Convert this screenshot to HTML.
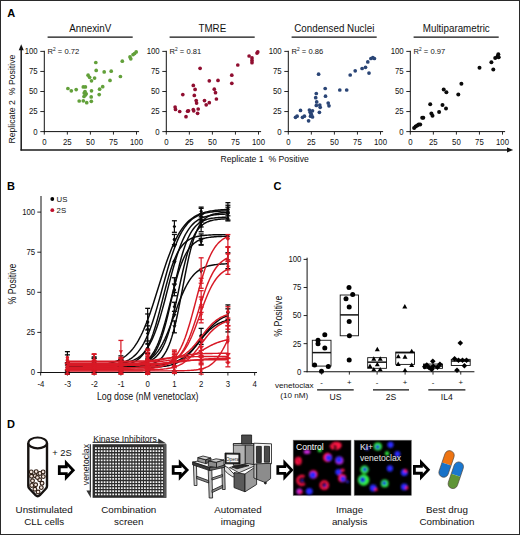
<!DOCTYPE html>
<html><head><meta charset="utf-8"><title>Figure</title>
<style>
html,body{margin:0;padding:0;background:#fff;}
body{width:520px;height:535px;overflow:hidden;}
svg{display:block;}
text{font-family:"Liberation Sans",sans-serif;}
</style></head><body>
<svg width="520" height="535" viewBox="0 0 520 535">
<rect x="0.5" y="0.5" width="519" height="534" fill="none" stroke="#2a2a2a" stroke-width="1"/>
<text x="7.3" y="16.7" font-size="11" text-anchor="start" fill="#000" font-weight="bold">A</text>
<text x="7.1" y="189.9" font-size="11" text-anchor="start" fill="#000" font-weight="bold">B</text>
<text x="273.4" y="190.2" font-size="11" text-anchor="start" fill="#000" font-weight="bold">C</text>
<text x="7.1" y="427.7" font-size="11" text-anchor="start" fill="#000" font-weight="bold">D</text>
<line x1="44.3" y1="50.8" x2="44.3" y2="132.1" stroke="#111" stroke-width="1"/>
<line x1="43.8" y1="131.6" x2="139.1" y2="131.6" stroke="#111" stroke-width="1"/>
<line x1="40.3" y1="131.6" x2="44.3" y2="131.6" stroke="#111" stroke-width="0.9"/>
<text x="37.7" y="134.5" font-size="8.5" text-anchor="end" fill="#111" textLength="4.34" lengthAdjust="spacingAndGlyphs">0</text>
<line x1="44.3" y1="131.6" x2="44.3" y2="134.6" stroke="#111" stroke-width="0.9"/>
<text x="44.3" y="144.6" font-size="8.5" text-anchor="middle" fill="#111" textLength="4.34" lengthAdjust="spacingAndGlyphs">0</text>
<line x1="40.3" y1="111.55" x2="44.3" y2="111.55" stroke="#111" stroke-width="0.9"/>
<text x="37.7" y="114.45" font-size="8.5" text-anchor="end" fill="#111" textLength="8.67" lengthAdjust="spacingAndGlyphs">25</text>
<line x1="67.35" y1="131.6" x2="67.35" y2="134.6" stroke="#111" stroke-width="0.9"/>
<text x="67.35" y="144.6" font-size="8.5" text-anchor="middle" fill="#111" textLength="8.67" lengthAdjust="spacingAndGlyphs">25</text>
<line x1="40.3" y1="91.5" x2="44.3" y2="91.5" stroke="#111" stroke-width="0.9"/>
<text x="37.7" y="94.4" font-size="8.5" text-anchor="end" fill="#111" textLength="8.67" lengthAdjust="spacingAndGlyphs">50</text>
<line x1="90.4" y1="131.6" x2="90.4" y2="134.6" stroke="#111" stroke-width="0.9"/>
<text x="90.4" y="144.6" font-size="8.5" text-anchor="middle" fill="#111" textLength="8.67" lengthAdjust="spacingAndGlyphs">50</text>
<line x1="40.3" y1="71.45" x2="44.3" y2="71.45" stroke="#111" stroke-width="0.9"/>
<text x="37.7" y="74.35" font-size="8.5" text-anchor="end" fill="#111" textLength="8.67" lengthAdjust="spacingAndGlyphs">75</text>
<line x1="113.45" y1="131.6" x2="113.45" y2="134.6" stroke="#111" stroke-width="0.9"/>
<text x="113.45" y="144.6" font-size="8.5" text-anchor="middle" fill="#111" textLength="8.67" lengthAdjust="spacingAndGlyphs">75</text>
<line x1="40.3" y1="51.4" x2="44.3" y2="51.4" stroke="#111" stroke-width="0.9"/>
<text x="37.7" y="54.3" font-size="8.5" text-anchor="end" fill="#111" textLength="13.01" lengthAdjust="spacingAndGlyphs">100</text>
<line x1="136.5" y1="131.6" x2="136.5" y2="134.6" stroke="#111" stroke-width="0.9"/>
<text x="136.5" y="144.6" font-size="8.5" text-anchor="middle" fill="#111" textLength="13.01" lengthAdjust="spacingAndGlyphs">100</text>
<text x="90.3" y="31.5" font-size="10.4" text-anchor="middle" fill="#111" textLength="41.95" lengthAdjust="spacingAndGlyphs">AnnexinV</text>
<line x1="47.6" y1="37.1" x2="132.7" y2="37.1" stroke="#111" stroke-width="1.3"/>
<text x="47.6" y="54.3" font-size="7.6" fill="#111">R<tspan font-size="4.8" dy="-3">2</tspan><tspan dy="3"> = 0.72</tspan></text>
<circle cx="67.9" cy="88.5" r="1.85" fill="#62a03a"/>
<circle cx="71.3" cy="90.8" r="1.85" fill="#62a03a"/>
<circle cx="76.2" cy="89.6" r="1.85" fill="#62a03a"/>
<circle cx="79.2" cy="101" r="1.85" fill="#62a03a"/>
<circle cx="83.3" cy="100.8" r="1.85" fill="#62a03a"/>
<circle cx="86.7" cy="102.7" r="1.85" fill="#62a03a"/>
<circle cx="91.3" cy="101.3" r="1.85" fill="#62a03a"/>
<circle cx="83.3" cy="86.9" r="1.85" fill="#62a03a"/>
<circle cx="85.4" cy="86.9" r="1.85" fill="#62a03a"/>
<circle cx="84.2" cy="93.1" r="1.85" fill="#62a03a"/>
<circle cx="86.2" cy="93.8" r="1.85" fill="#62a03a"/>
<circle cx="85.4" cy="95" r="1.85" fill="#62a03a"/>
<circle cx="91.5" cy="90.8" r="1.85" fill="#62a03a"/>
<circle cx="91.2" cy="96.9" r="1.85" fill="#62a03a"/>
<circle cx="88.1" cy="75.2" r="1.85" fill="#62a03a"/>
<circle cx="89.6" cy="77.3" r="1.85" fill="#62a03a"/>
<circle cx="91.5" cy="80.8" r="1.85" fill="#62a03a"/>
<circle cx="94.6" cy="78.1" r="1.85" fill="#62a03a"/>
<circle cx="95.8" cy="62.5" r="1.85" fill="#62a03a"/>
<circle cx="96.2" cy="70.4" r="1.85" fill="#62a03a"/>
<circle cx="99.6" cy="89.2" r="1.85" fill="#62a03a"/>
<circle cx="102.7" cy="86.7" r="1.85" fill="#62a03a"/>
<circle cx="99.2" cy="94.6" r="1.85" fill="#62a03a"/>
<circle cx="104.2" cy="71.9" r="1.85" fill="#62a03a"/>
<circle cx="111.2" cy="71.2" r="1.85" fill="#62a03a"/>
<circle cx="110" cy="80.4" r="1.85" fill="#62a03a"/>
<circle cx="120.4" cy="76.5" r="1.85" fill="#62a03a"/>
<circle cx="122.3" cy="61.2" r="1.85" fill="#62a03a"/>
<circle cx="130" cy="56.9" r="1.85" fill="#62a03a"/>
<circle cx="130.8" cy="58.8" r="1.85" fill="#62a03a"/>
<circle cx="133.1" cy="54.6" r="1.85" fill="#62a03a"/>
<circle cx="134.6" cy="53.5" r="1.85" fill="#62a03a"/>
<circle cx="136.2" cy="51.9" r="1.85" fill="#62a03a"/>
<circle cx="85" cy="91.5" r="1.85" fill="#62a03a"/>
<circle cx="84" cy="96.5" r="1.85" fill="#62a03a"/>
<line x1="166.3" y1="50.8" x2="166.3" y2="132.1" stroke="#111" stroke-width="1"/>
<line x1="165.8" y1="131.6" x2="261.1" y2="131.6" stroke="#111" stroke-width="1"/>
<line x1="162.3" y1="131.6" x2="166.3" y2="131.6" stroke="#111" stroke-width="0.9"/>
<text x="159.7" y="134.5" font-size="8.5" text-anchor="end" fill="#111" textLength="4.34" lengthAdjust="spacingAndGlyphs">0</text>
<line x1="166.3" y1="131.6" x2="166.3" y2="134.6" stroke="#111" stroke-width="0.9"/>
<text x="166.3" y="144.6" font-size="8.5" text-anchor="middle" fill="#111" textLength="4.34" lengthAdjust="spacingAndGlyphs">0</text>
<line x1="162.3" y1="111.55" x2="166.3" y2="111.55" stroke="#111" stroke-width="0.9"/>
<text x="159.7" y="114.45" font-size="8.5" text-anchor="end" fill="#111" textLength="8.67" lengthAdjust="spacingAndGlyphs">25</text>
<line x1="189.35" y1="131.6" x2="189.35" y2="134.6" stroke="#111" stroke-width="0.9"/>
<text x="189.35" y="144.6" font-size="8.5" text-anchor="middle" fill="#111" textLength="8.67" lengthAdjust="spacingAndGlyphs">25</text>
<line x1="162.3" y1="91.5" x2="166.3" y2="91.5" stroke="#111" stroke-width="0.9"/>
<text x="159.7" y="94.4" font-size="8.5" text-anchor="end" fill="#111" textLength="8.67" lengthAdjust="spacingAndGlyphs">50</text>
<line x1="212.4" y1="131.6" x2="212.4" y2="134.6" stroke="#111" stroke-width="0.9"/>
<text x="212.4" y="144.6" font-size="8.5" text-anchor="middle" fill="#111" textLength="8.67" lengthAdjust="spacingAndGlyphs">50</text>
<line x1="162.3" y1="71.45" x2="166.3" y2="71.45" stroke="#111" stroke-width="0.9"/>
<text x="159.7" y="74.35" font-size="8.5" text-anchor="end" fill="#111" textLength="8.67" lengthAdjust="spacingAndGlyphs">75</text>
<line x1="235.45" y1="131.6" x2="235.45" y2="134.6" stroke="#111" stroke-width="0.9"/>
<text x="235.45" y="144.6" font-size="8.5" text-anchor="middle" fill="#111" textLength="8.67" lengthAdjust="spacingAndGlyphs">75</text>
<line x1="162.3" y1="51.4" x2="166.3" y2="51.4" stroke="#111" stroke-width="0.9"/>
<text x="159.7" y="54.3" font-size="8.5" text-anchor="end" fill="#111" textLength="13.01" lengthAdjust="spacingAndGlyphs">100</text>
<line x1="258.5" y1="131.6" x2="258.5" y2="134.6" stroke="#111" stroke-width="0.9"/>
<text x="258.5" y="144.6" font-size="8.5" text-anchor="middle" fill="#111" textLength="13.01" lengthAdjust="spacingAndGlyphs">100</text>
<text x="212.3" y="31.5" font-size="10.4" text-anchor="middle" fill="#111" textLength="27.76" lengthAdjust="spacingAndGlyphs">TMRE</text>
<line x1="169.6" y1="37.1" x2="254.7" y2="37.1" stroke="#111" stroke-width="1.3"/>
<text x="169.6" y="54.3" font-size="7.6" fill="#111">R<tspan font-size="4.8" dy="-3">2</tspan><tspan dy="3"> = 0.81</tspan></text>
<circle cx="175.1" cy="107.1" r="1.85" fill="#900e30"/>
<circle cx="175.5" cy="109.4" r="1.85" fill="#900e30"/>
<circle cx="179.7" cy="111.5" r="1.85" fill="#900e30"/>
<circle cx="182.8" cy="94.6" r="1.85" fill="#900e30"/>
<circle cx="186" cy="116.7" r="1.85" fill="#900e30"/>
<circle cx="187.6" cy="111.2" r="1.85" fill="#900e30"/>
<circle cx="188.5" cy="110.8" r="1.85" fill="#900e30"/>
<circle cx="193.3" cy="85.4" r="1.85" fill="#900e30"/>
<circle cx="195.1" cy="89.4" r="1.85" fill="#900e30"/>
<circle cx="194.3" cy="95.4" r="1.85" fill="#900e30"/>
<circle cx="196.2" cy="100.6" r="1.85" fill="#900e30"/>
<circle cx="196.6" cy="103.1" r="1.85" fill="#900e30"/>
<circle cx="193.3" cy="109.6" r="1.85" fill="#900e30"/>
<circle cx="193.7" cy="110.8" r="1.85" fill="#900e30"/>
<circle cx="198.2" cy="109" r="1.85" fill="#900e30"/>
<circle cx="197.6" cy="113.3" r="1.85" fill="#900e30"/>
<circle cx="200.1" cy="68.3" r="1.85" fill="#900e30"/>
<circle cx="204.5" cy="100.6" r="1.85" fill="#900e30"/>
<circle cx="206.2" cy="104.8" r="1.85" fill="#900e30"/>
<circle cx="209.3" cy="102.7" r="1.85" fill="#900e30"/>
<circle cx="209.3" cy="80.8" r="1.85" fill="#900e30"/>
<circle cx="214.3" cy="89.2" r="1.85" fill="#900e30"/>
<circle cx="215.5" cy="92.7" r="1.85" fill="#900e30"/>
<circle cx="216.4" cy="99" r="1.85" fill="#900e30"/>
<circle cx="218" cy="80.4" r="1.85" fill="#900e30"/>
<circle cx="231.8" cy="75.2" r="1.85" fill="#900e30"/>
<circle cx="231.8" cy="83.3" r="1.85" fill="#900e30"/>
<circle cx="237.8" cy="65" r="1.85" fill="#900e30"/>
<circle cx="249.1" cy="56" r="1.85" fill="#900e30"/>
<circle cx="252" cy="57.9" r="1.85" fill="#900e30"/>
<circle cx="252" cy="60.4" r="1.85" fill="#900e30"/>
<circle cx="252" cy="62.7" r="1.85" fill="#900e30"/>
<circle cx="257" cy="53.1" r="1.85" fill="#900e30"/>
<circle cx="257.8" cy="51.9" r="1.85" fill="#900e30"/>
<line x1="288.3" y1="50.8" x2="288.3" y2="132.1" stroke="#111" stroke-width="1"/>
<line x1="287.8" y1="131.6" x2="383.1" y2="131.6" stroke="#111" stroke-width="1"/>
<line x1="284.3" y1="131.6" x2="288.3" y2="131.6" stroke="#111" stroke-width="0.9"/>
<text x="281.7" y="134.5" font-size="8.5" text-anchor="end" fill="#111" textLength="4.34" lengthAdjust="spacingAndGlyphs">0</text>
<line x1="288.3" y1="131.6" x2="288.3" y2="134.6" stroke="#111" stroke-width="0.9"/>
<text x="288.3" y="144.6" font-size="8.5" text-anchor="middle" fill="#111" textLength="4.34" lengthAdjust="spacingAndGlyphs">0</text>
<line x1="284.3" y1="111.55" x2="288.3" y2="111.55" stroke="#111" stroke-width="0.9"/>
<text x="281.7" y="114.45" font-size="8.5" text-anchor="end" fill="#111" textLength="8.67" lengthAdjust="spacingAndGlyphs">25</text>
<line x1="311.35" y1="131.6" x2="311.35" y2="134.6" stroke="#111" stroke-width="0.9"/>
<text x="311.35" y="144.6" font-size="8.5" text-anchor="middle" fill="#111" textLength="8.67" lengthAdjust="spacingAndGlyphs">25</text>
<line x1="284.3" y1="91.5" x2="288.3" y2="91.5" stroke="#111" stroke-width="0.9"/>
<text x="281.7" y="94.4" font-size="8.5" text-anchor="end" fill="#111" textLength="8.67" lengthAdjust="spacingAndGlyphs">50</text>
<line x1="334.4" y1="131.6" x2="334.4" y2="134.6" stroke="#111" stroke-width="0.9"/>
<text x="334.4" y="144.6" font-size="8.5" text-anchor="middle" fill="#111" textLength="8.67" lengthAdjust="spacingAndGlyphs">50</text>
<line x1="284.3" y1="71.45" x2="288.3" y2="71.45" stroke="#111" stroke-width="0.9"/>
<text x="281.7" y="74.35" font-size="8.5" text-anchor="end" fill="#111" textLength="8.67" lengthAdjust="spacingAndGlyphs">75</text>
<line x1="357.45" y1="131.6" x2="357.45" y2="134.6" stroke="#111" stroke-width="0.9"/>
<text x="357.45" y="144.6" font-size="8.5" text-anchor="middle" fill="#111" textLength="8.67" lengthAdjust="spacingAndGlyphs">75</text>
<line x1="284.3" y1="51.4" x2="288.3" y2="51.4" stroke="#111" stroke-width="0.9"/>
<text x="281.7" y="54.3" font-size="8.5" text-anchor="end" fill="#111" textLength="13.01" lengthAdjust="spacingAndGlyphs">100</text>
<line x1="380.5" y1="131.6" x2="380.5" y2="134.6" stroke="#111" stroke-width="0.9"/>
<text x="380.5" y="144.6" font-size="8.5" text-anchor="middle" fill="#111" textLength="13.01" lengthAdjust="spacingAndGlyphs">100</text>
<text x="334.3" y="31.5" font-size="10.4" text-anchor="middle" fill="#111" textLength="80.08" lengthAdjust="spacingAndGlyphs">Condensed Nuclei</text>
<line x1="291.6" y1="37.1" x2="376.7" y2="37.1" stroke="#111" stroke-width="1.3"/>
<text x="291.6" y="54.3" font-size="7.6" fill="#111">R<tspan font-size="4.8" dy="-3">2</tspan><tspan dy="3"> = 0.86</tspan></text>
<circle cx="295.5" cy="117.3" r="1.85" fill="#2a4576"/>
<circle cx="297.1" cy="116.2" r="1.85" fill="#2a4576"/>
<circle cx="300.5" cy="110.4" r="1.85" fill="#2a4576"/>
<circle cx="302.5" cy="117.3" r="1.85" fill="#2a4576"/>
<circle cx="304.4" cy="116.2" r="1.85" fill="#2a4576"/>
<circle cx="308.6" cy="120.8" r="1.85" fill="#2a4576"/>
<circle cx="309.4" cy="110" r="1.85" fill="#2a4576"/>
<circle cx="310.2" cy="112.3" r="1.85" fill="#2a4576"/>
<circle cx="310.5" cy="116.2" r="1.85" fill="#2a4576"/>
<circle cx="312.5" cy="110.8" r="1.85" fill="#2a4576"/>
<circle cx="312.5" cy="116.9" r="1.85" fill="#2a4576"/>
<circle cx="311.3" cy="114.2" r="1.85" fill="#2a4576"/>
<circle cx="316.3" cy="93.5" r="1.85" fill="#2a4576"/>
<circle cx="315.7" cy="97.7" r="1.85" fill="#2a4576"/>
<circle cx="316.7" cy="101.9" r="1.85" fill="#2a4576"/>
<circle cx="316.3" cy="105.4" r="1.85" fill="#2a4576"/>
<circle cx="318.6" cy="74.2" r="1.85" fill="#2a4576"/>
<circle cx="319.8" cy="105" r="1.85" fill="#2a4576"/>
<circle cx="320.2" cy="107.3" r="1.85" fill="#2a4576"/>
<circle cx="319.4" cy="112.3" r="1.85" fill="#2a4576"/>
<circle cx="325.2" cy="88.5" r="1.85" fill="#2a4576"/>
<circle cx="325.5" cy="96.2" r="1.85" fill="#2a4576"/>
<circle cx="328.2" cy="103.1" r="1.85" fill="#2a4576"/>
<circle cx="329" cy="105.8" r="1.85" fill="#2a4576"/>
<circle cx="339.8" cy="90" r="1.85" fill="#2a4576"/>
<circle cx="346.7" cy="90" r="1.85" fill="#2a4576"/>
<circle cx="350.2" cy="75" r="1.85" fill="#2a4576"/>
<circle cx="355.2" cy="70.8" r="1.85" fill="#2a4576"/>
<circle cx="362.1" cy="68.5" r="1.85" fill="#2a4576"/>
<circle cx="365.5" cy="67.3" r="1.85" fill="#2a4576"/>
<circle cx="369" cy="73.1" r="1.85" fill="#2a4576"/>
<circle cx="367.8" cy="61.9" r="1.85" fill="#2a4576"/>
<circle cx="370.9" cy="58.5" r="1.85" fill="#2a4576"/>
<circle cx="372.8" cy="57.7" r="1.85" fill="#2a4576"/>
<circle cx="374.4" cy="58.5" r="1.85" fill="#2a4576"/>
<line x1="410.3" y1="50.8" x2="410.3" y2="132.1" stroke="#111" stroke-width="1"/>
<line x1="409.8" y1="131.6" x2="505.1" y2="131.6" stroke="#111" stroke-width="1"/>
<line x1="406.3" y1="131.6" x2="410.3" y2="131.6" stroke="#111" stroke-width="0.9"/>
<text x="403.7" y="134.5" font-size="8.5" text-anchor="end" fill="#111" textLength="4.34" lengthAdjust="spacingAndGlyphs">0</text>
<line x1="410.3" y1="131.6" x2="410.3" y2="134.6" stroke="#111" stroke-width="0.9"/>
<text x="410.3" y="144.6" font-size="8.5" text-anchor="middle" fill="#111" textLength="4.34" lengthAdjust="spacingAndGlyphs">0</text>
<line x1="406.3" y1="111.55" x2="410.3" y2="111.55" stroke="#111" stroke-width="0.9"/>
<text x="403.7" y="114.45" font-size="8.5" text-anchor="end" fill="#111" textLength="8.67" lengthAdjust="spacingAndGlyphs">25</text>
<line x1="433.35" y1="131.6" x2="433.35" y2="134.6" stroke="#111" stroke-width="0.9"/>
<text x="433.35" y="144.6" font-size="8.5" text-anchor="middle" fill="#111" textLength="8.67" lengthAdjust="spacingAndGlyphs">25</text>
<line x1="406.3" y1="91.5" x2="410.3" y2="91.5" stroke="#111" stroke-width="0.9"/>
<text x="403.7" y="94.4" font-size="8.5" text-anchor="end" fill="#111" textLength="8.67" lengthAdjust="spacingAndGlyphs">50</text>
<line x1="456.4" y1="131.6" x2="456.4" y2="134.6" stroke="#111" stroke-width="0.9"/>
<text x="456.4" y="144.6" font-size="8.5" text-anchor="middle" fill="#111" textLength="8.67" lengthAdjust="spacingAndGlyphs">50</text>
<line x1="406.3" y1="71.45" x2="410.3" y2="71.45" stroke="#111" stroke-width="0.9"/>
<text x="403.7" y="74.35" font-size="8.5" text-anchor="end" fill="#111" textLength="8.67" lengthAdjust="spacingAndGlyphs">75</text>
<line x1="479.45" y1="131.6" x2="479.45" y2="134.6" stroke="#111" stroke-width="0.9"/>
<text x="479.45" y="144.6" font-size="8.5" text-anchor="middle" fill="#111" textLength="8.67" lengthAdjust="spacingAndGlyphs">75</text>
<line x1="406.3" y1="51.4" x2="410.3" y2="51.4" stroke="#111" stroke-width="0.9"/>
<text x="403.7" y="54.3" font-size="8.5" text-anchor="end" fill="#111" textLength="13.01" lengthAdjust="spacingAndGlyphs">100</text>
<line x1="502.5" y1="131.6" x2="502.5" y2="134.6" stroke="#111" stroke-width="0.9"/>
<text x="502.5" y="144.6" font-size="8.5" text-anchor="middle" fill="#111" textLength="13.01" lengthAdjust="spacingAndGlyphs">100</text>
<text x="456.3" y="31.5" font-size="10.4" text-anchor="middle" fill="#111" textLength="66.98" lengthAdjust="spacingAndGlyphs">Multiparametric</text>
<line x1="413.6" y1="37.1" x2="498.7" y2="37.1" stroke="#111" stroke-width="1.3"/>
<text x="413.6" y="54.3" font-size="7.6" fill="#111">R<tspan font-size="4.8" dy="-3">2</tspan><tspan dy="3"> = 0.97</tspan></text>
<circle cx="414.1" cy="128.1" r="2.0" fill="#0a0a0a"/>
<circle cx="415.6" cy="126.5" r="2.0" fill="#0a0a0a"/>
<circle cx="417.2" cy="125.4" r="2.0" fill="#0a0a0a"/>
<circle cx="418.7" cy="124.6" r="2.0" fill="#0a0a0a"/>
<circle cx="420.2" cy="124.6" r="2.0" fill="#0a0a0a"/>
<circle cx="422.2" cy="117.7" r="2.0" fill="#0a0a0a"/>
<circle cx="423.3" cy="117.7" r="2.0" fill="#0a0a0a"/>
<circle cx="430.2" cy="104.2" r="2.0" fill="#0a0a0a"/>
<circle cx="431.4" cy="113.5" r="2.0" fill="#0a0a0a"/>
<circle cx="432.5" cy="115.8" r="2.0" fill="#0a0a0a"/>
<circle cx="439.1" cy="111.9" r="2.0" fill="#0a0a0a"/>
<circle cx="442.5" cy="105" r="2.0" fill="#0a0a0a"/>
<circle cx="443.7" cy="89.6" r="2.0" fill="#0a0a0a"/>
<circle cx="446.4" cy="92.3" r="2.0" fill="#0a0a0a"/>
<circle cx="446" cy="108.5" r="2.0" fill="#0a0a0a"/>
<circle cx="458.3" cy="94.6" r="2.0" fill="#0a0a0a"/>
<circle cx="461.4" cy="83.8" r="2.0" fill="#0a0a0a"/>
<circle cx="479.5" cy="67.7" r="2.0" fill="#0a0a0a"/>
<circle cx="491.4" cy="62.3" r="2.0" fill="#0a0a0a"/>
<circle cx="493.3" cy="69.6" r="2.0" fill="#0a0a0a"/>
<circle cx="495.2" cy="58.1" r="2.0" fill="#0a0a0a"/>
<circle cx="497.5" cy="56.5" r="2.0" fill="#0a0a0a"/>
<circle cx="498.3" cy="54.2" r="2.0" fill="#0a0a0a"/>
<circle cx="498.7" cy="57.3" r="2.0" fill="#0a0a0a"/>
<line x1="21.2" y1="49" x2="21.2" y2="150.6" stroke="#1a1a1a" stroke-width="1.5"/>
<line x1="20.5" y1="149.9" x2="508" y2="149.9" stroke="#1a1a1a" stroke-width="1.5"/>
<path d="M21.2,44.3 L18.7,50.2 L23.7,50.2 Z" fill="#111"/>
<path d="M513.2,149.9 L507,147.4 L507,152.4 Z" fill="#111"/>
<text x="264.6" y="161.8" font-size="9.9" text-anchor="middle" fill="#111" textLength="88.4" lengthAdjust="spacingAndGlyphs">Replicate 1&#160;&#160;% Positive</text>
<text x="0" y="0" font-size="9.9" text-anchor="middle" fill="#111" textLength="89" lengthAdjust="spacingAndGlyphs" transform="translate(14.8,99.1) rotate(-90)">Replicate 2&#160;&#160;% Positive</text>
<line x1="41" y1="196" x2="41" y2="373" stroke="#111" stroke-width="1"/>
<line x1="40.5" y1="372.5" x2="257" y2="372.5" stroke="#111" stroke-width="1"/>
<line x1="37.3" y1="372.5" x2="41" y2="372.5" stroke="#111" stroke-width="0.9"/>
<text x="35.2" y="375.4" font-size="8.5" text-anchor="end" fill="#111" textLength="4.34" lengthAdjust="spacingAndGlyphs">0</text>
<line x1="37.3" y1="332.4" x2="41" y2="332.4" stroke="#111" stroke-width="0.9"/>
<text x="35.2" y="335.3" font-size="8.5" text-anchor="end" fill="#111" textLength="8.67" lengthAdjust="spacingAndGlyphs">25</text>
<line x1="37.3" y1="292.3" x2="41" y2="292.3" stroke="#111" stroke-width="0.9"/>
<text x="35.2" y="295.2" font-size="8.5" text-anchor="end" fill="#111" textLength="8.67" lengthAdjust="spacingAndGlyphs">50</text>
<line x1="37.3" y1="252.2" x2="41" y2="252.2" stroke="#111" stroke-width="0.9"/>
<text x="35.2" y="255.1" font-size="8.5" text-anchor="end" fill="#111" textLength="8.67" lengthAdjust="spacingAndGlyphs">75</text>
<line x1="37.3" y1="212.1" x2="41" y2="212.1" stroke="#111" stroke-width="0.9"/>
<text x="35.2" y="215" font-size="8.5" text-anchor="end" fill="#111" textLength="13.01" lengthAdjust="spacingAndGlyphs">100</text>
<line x1="40.65" y1="372.5" x2="40.65" y2="375.5" stroke="#111" stroke-width="0.9"/>
<text x="40.85" y="386.8" font-size="8.5" text-anchor="middle" fill="#111" textLength="6.93" lengthAdjust="spacingAndGlyphs">-4</text>
<line x1="67.4" y1="372.5" x2="67.4" y2="375.5" stroke="#111" stroke-width="0.9"/>
<text x="67.6" y="386.8" font-size="8.5" text-anchor="middle" fill="#111" textLength="6.93" lengthAdjust="spacingAndGlyphs">-3</text>
<line x1="94.15" y1="372.5" x2="94.15" y2="375.5" stroke="#111" stroke-width="0.9"/>
<text x="94.35" y="386.8" font-size="8.5" text-anchor="middle" fill="#111" textLength="6.93" lengthAdjust="spacingAndGlyphs">-2</text>
<line x1="120.9" y1="372.5" x2="120.9" y2="375.5" stroke="#111" stroke-width="0.9"/>
<text x="121.1" y="386.8" font-size="8.5" text-anchor="middle" fill="#111" textLength="6.93" lengthAdjust="spacingAndGlyphs">-1</text>
<line x1="147.65" y1="372.5" x2="147.65" y2="375.5" stroke="#111" stroke-width="0.9"/>
<text x="147.75" y="386.8" font-size="8.5" text-anchor="middle" fill="#111" textLength="4.34" lengthAdjust="spacingAndGlyphs">0</text>
<line x1="174.4" y1="372.5" x2="174.4" y2="375.5" stroke="#111" stroke-width="0.9"/>
<text x="174.5" y="386.8" font-size="8.5" text-anchor="middle" fill="#111" textLength="4.34" lengthAdjust="spacingAndGlyphs">1</text>
<line x1="201.15" y1="372.5" x2="201.15" y2="375.5" stroke="#111" stroke-width="0.9"/>
<text x="201.25" y="386.8" font-size="8.5" text-anchor="middle" fill="#111" textLength="4.34" lengthAdjust="spacingAndGlyphs">2</text>
<line x1="227.9" y1="372.5" x2="227.9" y2="375.5" stroke="#111" stroke-width="0.9"/>
<text x="228" y="386.8" font-size="8.5" text-anchor="middle" fill="#111" textLength="4.34" lengthAdjust="spacingAndGlyphs">3</text>
<line x1="254.65" y1="372.5" x2="254.65" y2="375.5" stroke="#111" stroke-width="0.9"/>
<text x="254.75" y="386.8" font-size="8.5" text-anchor="middle" fill="#111" textLength="4.34" lengthAdjust="spacingAndGlyphs">4</text>
<text x="147.7" y="400.3" font-size="10.2" text-anchor="middle" fill="#111" textLength="101.6" lengthAdjust="spacingAndGlyphs">Log dose (nM venetoclax)</text>
<text x="0" y="0" font-size="10.2" text-anchor="middle" fill="#111" textLength="41" lengthAdjust="spacingAndGlyphs" transform="translate(15.5,284) rotate(-90)">% Positive</text>
<circle cx="52.3" cy="199" r="1.9" fill="#000"/>
<text x="56.6" y="201.6" font-size="7.8" text-anchor="start" fill="#111">US</text>
<circle cx="52.3" cy="210.2" r="1.9" fill="#c0102c"/>
<text x="56.6" y="212.8" font-size="7.8" text-anchor="start" fill="#111">2S</text>
<path d="M67.4,365.99L68.74,365.98L70.08,365.97L71.41,365.96L72.75,365.94L74.09,365.92L75.42,365.91L76.76,365.89L78.1,365.86L79.44,365.84L80.78,365.81L82.11,365.78L83.45,365.74L84.79,365.7L86.12,365.66L87.46,365.61L88.8,365.55L90.14,365.49L91.47,365.42L92.81,365.35L94.15,365.26L95.49,365.17L96.83,365.06L98.16,364.95L99.5,364.82L100.84,364.67L102.18,364.51L103.51,364.33L104.85,364.13L106.19,363.91L107.53,363.66L108.86,363.38L110.2,363.08L111.54,362.74L112.88,362.36L114.21,361.94L115.55,361.48L116.89,360.96L118.23,360.39L119.56,359.76L120.9,359.06L122.24,358.29L123.58,357.44L124.91,356.5L126.25,355.47L127.59,354.33L128.93,353.08L130.26,351.72L131.6,350.23L132.94,348.6L134.28,346.82L135.61,344.9L136.95,342.81L138.29,340.56L139.62,338.13L140.96,335.53L142.3,332.75L143.64,329.78L144.97,326.64L146.31,323.32L147.65,319.84L148.99,316.19L150.33,312.39L151.66,308.46L153,304.41L154.34,300.27L155.68,296.05L157.01,291.78L158.35,287.49L159.69,283.19L161.03,278.93L162.36,274.71L163.7,270.56L165.04,266.52L166.38,262.59L167.71,258.79L169.05,255.14L170.39,251.65L171.72,248.33L173.06,245.19L174.4,242.23L175.74,239.45L177.07,236.84L178.41,234.42L179.75,232.16L181.09,230.08L182.43,228.15L183.76,226.38L185.1,224.75L186.44,223.26L187.78,221.89L189.11,220.65L190.45,219.51L191.79,218.48L193.12,217.54L194.46,216.69L195.8,215.92L197.14,215.22L198.48,214.59L199.81,214.02L201.15,213.5L202.49,213.04L203.82,212.62L205.16,212.24L206.5,211.9L207.84,211.59L209.18,211.32L210.51,211.07L211.85,210.85L213.19,210.65L214.53,210.47L215.86,210.3L217.2,210.16L218.54,210.03L219.88,209.91L221.21,209.81L222.55,209.71L223.89,209.63L225.23,209.55L226.56,209.48L227.9,209.42" fill="none" stroke="#0a0a0a" stroke-width="1.45"/>
<path d="M67.4,366.06L68.74,366.06L70.08,366.06L71.41,366.06L72.75,366.05L74.09,366.05L75.42,366.04L76.76,366.04L78.1,366.03L79.44,366.02L80.78,366.02L82.11,366.01L83.45,366L84.79,365.98L86.12,365.97L87.46,365.95L88.8,365.94L90.14,365.92L91.47,365.9L92.81,365.87L94.15,365.84L95.49,365.81L96.83,365.77L98.16,365.73L99.5,365.68L100.84,365.63L102.18,365.56L103.51,365.49L104.85,365.42L106.19,365.33L107.53,365.22L108.86,365.11L110.2,364.98L111.54,364.83L112.88,364.66L114.21,364.47L115.55,364.26L116.89,364.01L118.23,363.74L119.56,363.43L120.9,363.07L122.24,362.68L123.58,362.23L124.91,361.72L126.25,361.15L127.59,360.51L128.93,359.79L130.26,358.98L131.6,358.07L132.94,357.05L134.28,355.91L135.61,354.63L136.95,353.22L138.29,351.64L139.62,349.89L140.96,347.96L142.3,345.83L143.64,343.5L144.97,340.94L146.31,338.16L147.65,335.13L148.99,331.87L150.33,328.38L151.66,324.64L153,320.68L154.34,316.5L155.68,312.13L157.01,307.58L158.35,302.89L159.69,298.09L161.03,293.21L162.36,288.29L163.7,283.37L165.04,278.49L166.38,273.69L167.71,269L169.05,264.45L170.39,260.08L171.72,255.9L173.06,251.94L174.4,248.2L175.74,244.71L177.07,241.45L178.41,238.42L179.75,235.64L181.09,233.08L182.43,230.75L183.76,228.62L185.1,226.69L186.44,224.94L187.78,223.36L189.11,221.95L190.45,220.67L191.79,219.53L193.12,218.51L194.46,217.6L195.8,216.79L197.14,216.07L198.48,215.43L199.81,214.86L201.15,214.35L202.49,213.9L203.82,213.51L205.16,213.15L206.5,212.84L207.84,212.57L209.18,212.32L210.51,212.11L211.85,211.92L213.19,211.75L214.53,211.6L215.86,211.47L217.2,211.36L218.54,211.25L219.88,211.16L221.21,211.09L222.55,211.02L223.89,210.95L225.23,210.9L226.56,210.85L227.9,210.81" fill="none" stroke="#0a0a0a" stroke-width="1.45"/>
<path d="M67.4,364.48L68.74,364.47L70.08,364.47L71.41,364.47L72.75,364.47L74.09,364.47L75.42,364.47L76.76,364.47L78.1,364.47L79.44,364.46L80.78,364.46L82.11,364.46L83.45,364.45L84.79,364.45L86.12,364.45L87.46,364.44L88.8,364.44L90.14,364.43L91.47,364.42L92.81,364.41L94.15,364.4L95.49,364.39L96.83,364.38L98.16,364.37L99.5,364.35L100.84,364.33L102.18,364.31L103.51,364.28L104.85,364.25L106.19,364.22L107.53,364.18L108.86,364.14L110.2,364.08L111.54,364.03L112.88,363.96L114.21,363.88L115.55,363.79L116.89,363.69L118.23,363.58L119.56,363.44L120.9,363.29L122.24,363.12L123.58,362.92L124.91,362.69L126.25,362.43L127.59,362.13L128.93,361.79L130.26,361.39L131.6,360.95L132.94,360.44L134.28,359.86L135.61,359.2L136.95,358.45L138.29,357.59L139.62,356.63L140.96,355.53L142.3,354.3L143.64,352.9L144.97,351.34L146.31,349.58L147.65,347.62L148.99,345.44L150.33,343.02L151.66,340.35L153,337.41L154.34,334.21L155.68,330.73L157.01,326.97L158.35,322.95L159.69,318.66L161.03,314.14L162.36,309.41L163.7,304.49L165.04,299.44L166.38,294.29L167.71,289.09L169.05,283.89L170.39,278.74L171.72,273.69L173.06,268.78L174.4,264.04L175.74,259.52L177.07,255.24L178.41,251.21L179.75,247.45L181.09,243.97L182.43,240.77L183.76,237.84L185.1,235.16L186.44,232.75L187.78,230.56L189.11,228.6L190.45,226.85L191.79,225.28L193.12,223.89L194.46,222.65L195.8,221.56L197.14,220.59L198.48,219.74L199.81,218.99L201.15,218.33L202.49,217.75L203.82,217.24L205.16,216.79L206.5,216.4L207.84,216.06L209.18,215.76L210.51,215.5L211.85,215.27L213.19,215.07L214.53,214.89L215.86,214.74L217.2,214.61L218.54,214.49L219.88,214.39L221.21,214.3L222.55,214.22L223.89,214.16L225.23,214.1L226.56,214.05L227.9,214" fill="none" stroke="#0a0a0a" stroke-width="1.45"/>
<path d="M67.4,367.69L68.74,367.69L70.08,367.69L71.41,367.69L72.75,367.69L74.09,367.69L75.42,367.69L76.76,367.69L78.1,367.69L79.44,367.69L80.78,367.69L82.11,367.69L83.45,367.68L84.79,367.68L86.12,367.68L87.46,367.68L88.8,367.68L90.14,367.68L91.47,367.68L92.81,367.68L94.15,367.68L95.49,367.67L96.83,367.67L98.16,367.67L99.5,367.67L100.84,367.66L102.18,367.66L103.51,367.65L104.85,367.65L106.19,367.64L107.53,367.63L108.86,367.62L110.2,367.61L111.54,367.6L112.88,367.58L114.21,367.56L115.55,367.54L116.89,367.52L118.23,367.48L119.56,367.45L120.9,367.41L122.24,367.36L123.58,367.3L124.91,367.23L126.25,367.15L127.59,367.06L128.93,366.95L130.26,366.83L131.6,366.68L132.94,366.5L134.28,366.29L135.61,366.05L136.95,365.77L138.29,365.44L139.62,365.05L140.96,364.6L142.3,364.08L143.64,363.46L144.97,362.75L146.31,361.92L147.65,360.95L148.99,359.83L150.33,358.54L151.66,357.06L153,355.35L154.34,353.4L155.68,351.17L157.01,348.65L158.35,345.8L159.69,342.61L161.03,339.05L162.36,335.13L163.7,330.83L165.04,326.15L166.38,321.13L167.71,315.79L169.05,310.18L170.39,304.35L171.72,298.36L173.06,292.3L174.4,286.24L175.74,280.25L177.07,274.42L178.41,268.81L179.75,263.47L181.09,258.45L182.43,253.77L183.76,249.47L185.1,245.55L186.44,241.99L187.78,238.8L189.11,235.95L190.45,233.43L191.79,231.2L193.12,229.25L194.46,227.54L195.8,226.06L197.14,224.77L198.48,223.65L199.81,222.68L201.15,221.85L202.49,221.14L203.82,220.52L205.16,220L206.5,219.55L207.84,219.16L209.18,218.83L210.51,218.55L211.85,218.31L213.19,218.1L214.53,217.92L215.86,217.77L217.2,217.65L218.54,217.54L219.88,217.45L221.21,217.37L222.55,217.3L223.89,217.24L225.23,217.19L226.56,217.15L227.9,217.12" fill="none" stroke="#0a0a0a" stroke-width="1.45"/>
<path d="M67.4,364.48L68.74,364.48L70.08,364.48L71.41,364.48L72.75,364.48L74.09,364.48L75.42,364.48L76.76,364.48L78.1,364.48L79.44,364.48L80.78,364.48L82.11,364.48L83.45,364.48L84.79,364.48L86.12,364.48L87.46,364.48L88.8,364.48L90.14,364.48L91.47,364.48L92.81,364.48L94.15,364.48L95.49,364.48L96.83,364.48L98.16,364.48L99.5,364.47L100.84,364.47L102.18,364.47L103.51,364.47L104.85,364.47L106.19,364.47L107.53,364.46L108.86,364.46L110.2,364.46L111.54,364.45L112.88,364.45L114.21,364.44L115.55,364.44L116.89,364.43L118.23,364.42L119.56,364.41L120.9,364.39L122.24,364.38L123.58,364.36L124.91,364.33L126.25,364.31L127.59,364.27L128.93,364.24L130.26,364.19L131.6,364.13L132.94,364.07L134.28,363.99L135.61,363.9L136.95,363.79L138.29,363.66L139.62,363.51L140.96,363.33L142.3,363.11L143.64,362.86L144.97,362.56L146.31,362.2L147.65,361.78L148.99,361.28L150.33,360.7L151.66,360.01L153,359.19L154.34,358.24L155.68,357.12L157.01,355.82L158.35,354.3L159.69,352.54L161.03,350.5L162.36,348.16L163.7,345.48L165.04,342.44L166.38,339.01L167.71,335.18L169.05,330.92L170.39,326.25L171.72,321.18L173.06,315.75L174.4,309.99L175.74,303.98L177.07,297.78L178.41,291.5L179.75,285.21L181.09,279.02L182.43,273L183.76,267.25L185.1,261.81L186.44,256.74L187.78,252.07L189.11,247.82L190.45,243.98L191.79,240.55L193.12,237.51L194.46,234.84L195.8,232.5L197.14,230.46L198.48,228.7L199.81,227.18L201.15,225.87L202.49,224.76L203.82,223.8L205.16,222.99L206.5,222.3L207.84,221.71L209.18,221.21L210.51,220.79L211.85,220.44L213.19,220.14L214.53,219.88L215.86,219.67L217.2,219.49L218.54,219.33L219.88,219.2L221.21,219.09L222.55,219L223.89,218.93L225.23,218.86L226.56,218.81L227.9,218.76" fill="none" stroke="#0a0a0a" stroke-width="1.45"/>
<path d="M67.4,366.08L68.74,366.08L70.08,366.08L71.41,366.08L72.75,366.08L74.09,366.08L75.42,366.08L76.76,366.08L78.1,366.08L79.44,366.08L80.78,366.08L82.11,366.08L83.45,366.08L84.79,366.08L86.12,366.08L87.46,366.08L88.8,366.08L90.14,366.08L91.47,366.08L92.81,366.08L94.15,366.08L95.49,366.08L96.83,366.08L98.16,366.08L99.5,366.08L100.84,366.08L102.18,366.08L103.51,366.08L104.85,366.08L106.19,366.08L107.53,366.08L108.86,366.08L110.2,366.08L111.54,366.08L112.88,366.07L114.21,366.07L115.55,366.07L116.89,366.07L118.23,366.06L119.56,366.06L120.9,366.05L122.24,366.05L123.58,366.04L124.91,366.03L126.25,366.02L127.59,366L128.93,365.99L130.26,365.97L131.6,365.94L132.94,365.92L134.28,365.88L135.61,365.84L136.95,365.79L138.29,365.73L139.62,365.66L140.96,365.58L142.3,365.47L143.64,365.35L144.97,365.2L146.31,365.03L147.65,364.81L148.99,364.56L150.33,364.25L151.66,363.89L153,363.45L154.34,362.93L155.68,362.31L157.01,361.57L158.35,360.69L159.69,359.64L161.03,358.41L162.36,356.94L163.7,355.23L165.04,353.21L166.38,350.87L167.71,348.15L169.05,345.02L170.39,341.44L171.72,337.38L173.06,332.83L174.4,327.78L175.74,322.24L177.07,316.24L178.41,309.84L179.75,303.12L181.09,296.16L182.43,289.09L183.76,282.02L185.1,275.07L186.44,268.34L187.78,261.94L189.11,255.95L190.45,250.4L191.79,245.35L193.12,240.8L194.46,236.75L195.8,233.17L197.14,230.03L198.48,227.32L199.81,224.97L201.15,222.96L202.49,221.24L203.82,219.78L205.16,218.54L206.5,217.49L207.84,216.61L209.18,215.87L210.51,215.25L211.85,214.73L213.19,214.29L214.53,213.93L215.86,213.62L217.2,213.37L218.54,213.16L219.88,212.98L221.21,212.83L222.55,212.71L223.89,212.61L225.23,212.52L226.56,212.45L227.9,212.39" fill="none" stroke="#0a0a0a" stroke-width="1.45"/>
<path d="M67.4,366.08L68.74,366.08L70.08,366.08L71.41,366.08L72.75,366.08L74.09,366.08L75.42,366.08L76.76,366.08L78.1,366.08L79.44,366.08L80.78,366.08L82.11,366.08L83.45,366.07L84.79,366.07L86.12,366.07L87.46,366.07L88.8,366.07L90.14,366.06L91.47,366.06L92.81,366.05L94.15,366.05L95.49,366.04L96.83,366.04L98.16,366.03L99.5,366.02L100.84,366L102.18,365.99L103.51,365.97L104.85,365.96L106.19,365.93L107.53,365.91L108.86,365.88L110.2,365.84L111.54,365.8L112.88,365.75L114.21,365.69L115.55,365.62L116.89,365.54L118.23,365.44L119.56,365.33L120.9,365.2L122.24,365.05L123.58,364.87L124.91,364.66L126.25,364.41L127.59,364.12L128.93,363.79L130.26,363.39L131.6,362.93L132.94,362.4L134.28,361.77L135.61,361.05L136.95,360.21L138.29,359.23L139.62,358.11L140.96,356.81L142.3,355.32L143.64,353.62L144.97,351.68L146.31,349.47L147.65,346.99L148.99,344.21L150.33,341.11L151.66,337.68L153,333.93L154.34,329.85L155.68,325.47L157.01,320.81L158.35,315.92L159.69,310.83L161.03,305.61L162.36,300.32L163.7,295.03L165.04,289.81L166.38,284.72L167.71,279.83L169.05,275.17L170.39,270.79L171.72,266.71L173.06,262.96L174.4,259.53L175.74,256.43L177.07,253.65L178.41,251.17L179.75,248.96L181.09,247.02L182.43,245.32L183.76,243.83L185.1,242.53L186.44,241.41L187.78,240.43L189.11,239.59L190.45,238.87L191.79,238.24L193.12,237.71L194.46,237.25L195.8,236.85L197.14,236.52L198.48,236.23L199.81,235.98L201.15,235.77L202.49,235.59L203.82,235.44L205.16,235.31L206.5,235.2L207.84,235.1L209.18,235.02L210.51,234.95L211.85,234.89L213.19,234.84L214.53,234.8L215.86,234.76L217.2,234.73L218.54,234.71L219.88,234.68L221.21,234.67L222.55,234.65L223.89,234.64L225.23,234.62L226.56,234.61L227.9,234.6" fill="none" stroke="#0a0a0a" stroke-width="1.45"/>
<path d="M67.4,367.69L68.74,367.69L70.08,367.69L71.41,367.69L72.75,367.69L74.09,367.69L75.42,367.69L76.76,367.69L78.1,367.69L79.44,367.69L80.78,367.69L82.11,367.68L83.45,367.68L84.79,367.68L86.12,367.68L87.46,367.68L88.8,367.68L90.14,367.68L91.47,367.68L92.81,367.68L94.15,367.67L95.49,367.67L96.83,367.67L98.16,367.67L99.5,367.66L100.84,367.66L102.18,367.65L103.51,367.65L104.85,367.64L106.19,367.63L107.53,367.62L108.86,367.61L110.2,367.59L111.54,367.58L112.88,367.56L114.21,367.54L115.55,367.51L116.89,367.48L118.23,367.44L119.56,367.4L120.9,367.35L122.24,367.29L123.58,367.22L124.91,367.14L126.25,367.05L127.59,366.94L128.93,366.8L130.26,366.65L131.6,366.47L132.94,366.26L134.28,366.02L135.61,365.73L136.95,365.39L138.29,365L139.62,364.54L140.96,364L142.3,363.38L143.64,362.65L144.97,361.81L146.31,360.84L147.65,359.71L148.99,358.41L150.33,356.92L151.66,355.22L153,353.28L154.34,351.08L155.68,348.59L157.01,345.81L158.35,342.71L159.69,339.29L161.03,335.53L162.36,331.46L163.7,327.08L165.04,322.42L166.38,317.52L167.71,312.43L169.05,307.21L170.39,301.92L171.72,296.64L173.06,291.41L174.4,286.33L175.74,281.43L177.07,276.77L178.41,272.39L179.75,268.32L181.09,264.56L182.43,261.14L183.76,258.04L185.1,255.25L186.44,252.77L187.78,250.57L189.11,248.63L190.45,246.92L191.79,245.43L193.12,244.14L194.46,243.01L195.8,242.04L197.14,241.2L198.48,240.47L199.81,239.85L201.15,239.31L202.49,238.85L203.82,238.46L205.16,238.12L206.5,237.83L207.84,237.59L209.18,237.38L210.51,237.2L211.85,237.04L213.19,236.91L214.53,236.8L215.86,236.71L217.2,236.63L218.54,236.56L219.88,236.5L221.21,236.45L222.55,236.4L223.89,236.37L225.23,236.34L226.56,236.31L227.9,236.29" fill="none" stroke="#0a0a0a" stroke-width="1.45"/>
<path d="M67.4,366.08L68.74,366.08L70.08,366.08L71.41,366.08L72.75,366.08L74.09,366.08L75.42,366.08L76.76,366.08L78.1,366.08L79.44,366.08L80.78,366.08L82.11,366.08L83.45,366.08L84.79,366.08L86.12,366.08L87.46,366.08L88.8,366.07L90.14,366.07L91.47,366.07L92.81,366.07L94.15,366.07L95.49,366.06L96.83,366.06L98.16,366.06L99.5,366.05L100.84,366.05L102.18,366.04L103.51,366.03L104.85,366.03L106.19,366.02L107.53,366.01L108.86,366L110.2,365.98L111.54,365.97L112.88,365.95L114.21,365.93L115.55,365.9L116.89,365.87L118.23,365.84L119.56,365.8L120.9,365.76L122.24,365.71L123.58,365.65L124.91,365.59L126.25,365.51L127.59,365.42L128.93,365.32L130.26,365.2L131.6,365.07L132.94,364.91L134.28,364.73L135.61,364.53L136.95,364.29L138.29,364.02L139.62,363.71L140.96,363.35L142.3,362.94L143.64,362.47L144.97,361.93L146.31,361.32L147.65,360.62L148.99,359.82L150.33,358.92L151.66,357.9L153,356.75L154.34,355.46L155.68,354.01L157.01,352.39L158.35,350.59L159.69,348.59L161.03,346.41L162.36,344.02L163.7,341.42L165.04,338.62L166.38,335.63L167.71,332.47L169.05,329.13L170.39,325.67L171.72,322.09L173.06,318.44L174.4,314.76L175.74,311.07L177.07,307.42L178.41,303.84L179.75,300.38L181.09,297.05L182.43,293.88L183.76,290.89L185.1,288.09L186.44,285.5L187.78,283.11L189.11,280.92L190.45,278.93L191.79,277.13L193.12,275.51L194.46,274.06L195.8,272.76L197.14,271.61L198.48,270.59L199.81,269.69L201.15,268.89L202.49,268.19L203.82,267.58L205.16,267.04L206.5,266.57L207.84,266.16L209.18,265.81L210.51,265.49L211.85,265.22L213.19,264.98L214.53,264.78L215.86,264.6L217.2,264.44L218.54,264.31L219.88,264.19L221.21,264.09L222.55,264L223.89,263.93L225.23,263.86L226.56,263.8L227.9,263.75" fill="none" stroke="#0a0a0a" stroke-width="1.45"/>
<path d="M67.4,366.08L68.74,366.08L70.08,366.08L71.41,366.08L72.75,366.08L74.09,366.08L75.42,366.08L76.76,366.08L78.1,366.08L79.44,366.08L80.78,366.08L82.11,366.08L83.45,366.08L84.79,366.08L86.12,366.08L87.46,366.08L88.8,366.08L90.14,366.08L91.47,366.08L92.81,366.08L94.15,366.08L95.49,366.08L96.83,366.08L98.16,366.08L99.5,366.08L100.84,366.08L102.18,366.08L103.51,366.08L104.85,366.08L106.19,366.08L107.53,366.08L108.86,366.08L110.2,366.07L111.54,366.07L112.88,366.07L114.21,366.07L115.55,366.07L116.89,366.07L118.23,366.06L119.56,366.06L120.9,366.06L122.24,366.05L123.58,366.05L124.91,366.04L126.25,366.04L127.59,366.03L128.93,366.03L130.26,366.02L131.6,366.01L132.94,366L134.28,365.99L135.61,365.97L136.95,365.96L138.29,365.94L139.62,365.92L140.96,365.9L142.3,365.88L143.64,365.85L144.97,365.82L146.31,365.78L147.65,365.74L148.99,365.7L150.33,365.64L151.66,365.59L153,365.52L154.34,365.44L155.68,365.36L157.01,365.26L158.35,365.15L159.69,365.03L161.03,364.89L162.36,364.73L163.7,364.56L165.04,364.36L166.38,364.13L167.71,363.88L169.05,363.59L170.39,363.27L171.72,362.92L173.06,362.52L174.4,362.07L175.74,361.57L177.07,361.02L178.41,360.41L179.75,359.73L181.09,358.99L182.43,358.17L183.76,357.27L185.1,356.29L186.44,355.24L187.78,354.09L189.11,352.87L190.45,351.56L191.79,350.17L193.12,348.7L194.46,347.17L195.8,345.58L197.14,343.93L198.48,342.25L199.81,340.54L201.15,338.82L202.49,337.09L203.82,335.38L205.16,333.7L206.5,332.05L207.84,330.46L209.18,328.93L210.51,327.46L211.85,326.07L213.19,324.77L214.53,323.54L215.86,322.4L217.2,321.34L218.54,320.36L219.88,319.47L221.21,318.65L222.55,317.9L223.89,317.22L225.23,316.61L226.56,316.06L227.9,315.56" fill="none" stroke="#0a0a0a" stroke-width="1.45"/>
<path d="M67.4,367.69L68.74,367.69L70.08,367.69L71.41,367.69L72.75,367.69L74.09,367.69L75.42,367.69L76.76,367.69L78.1,367.69L79.44,367.69L80.78,367.69L82.11,367.69L83.45,367.69L84.79,367.69L86.12,367.69L87.46,367.69L88.8,367.69L90.14,367.69L91.47,367.69L92.81,367.69L94.15,367.69L95.49,367.69L96.83,367.69L98.16,367.69L99.5,367.69L100.84,367.69L102.18,367.69L103.51,367.69L104.85,367.68L106.19,367.68L107.53,367.68L108.86,367.68L110.2,367.68L111.54,367.68L112.88,367.68L114.21,367.68L115.55,367.68L116.89,367.68L118.23,367.68L119.56,367.67L120.9,367.67L122.24,367.67L123.58,367.67L124.91,367.66L126.25,367.66L127.59,367.66L128.93,367.65L130.26,367.64L131.6,367.64L132.94,367.63L134.28,367.62L135.61,367.61L136.95,367.6L138.29,367.59L139.62,367.57L140.96,367.56L142.3,367.54L143.64,367.52L144.97,367.49L146.31,367.46L147.65,367.43L148.99,367.39L150.33,367.35L151.66,367.3L153,367.24L154.34,367.17L155.68,367.1L157.01,367.01L158.35,366.91L159.69,366.8L161.03,366.67L162.36,366.52L163.7,366.36L165.04,366.16L166.38,365.95L167.71,365.7L169.05,365.42L170.39,365.1L171.72,364.74L173.06,364.33L174.4,363.87L175.74,363.35L177.07,362.77L178.41,362.13L179.75,361.41L181.09,360.61L182.43,359.73L183.76,358.76L185.1,357.71L186.44,356.56L187.78,355.32L189.11,353.99L190.45,352.58L191.79,351.09L193.12,349.53L194.46,347.91L195.8,346.24L197.14,344.54L198.48,342.83L199.81,341.11L201.15,339.41L202.49,337.75L203.82,336.13L205.16,334.56L206.5,333.07L207.84,331.66L209.18,330.33L210.51,329.09L211.85,327.95L213.19,326.89L214.53,325.92L215.86,325.04L217.2,324.24L218.54,323.52L219.88,322.88L221.21,322.3L222.55,321.78L223.89,321.32L225.23,320.92L226.56,320.55L227.9,320.24" fill="none" stroke="#0a0a0a" stroke-width="1.45"/>
<line x1="67.4" y1="362.63" x2="67.4" y2="373.55" stroke="#0a0a0a" stroke-width="1.2"/>
<line x1="64.9" y1="362.63" x2="69.9" y2="362.63" stroke="#0a0a0a" stroke-width="1.3"/>
<line x1="64.9" y1="373.55" x2="69.9" y2="373.55" stroke="#0a0a0a" stroke-width="1.3"/>
<circle cx="67.4" cy="368.09" r="1.7" fill="#0a0a0a"/>
<line x1="94.15" y1="358.51" x2="94.15" y2="370.35" stroke="#0a0a0a" stroke-width="1.2"/>
<line x1="91.65" y1="358.51" x2="96.65" y2="358.51" stroke="#0a0a0a" stroke-width="1.3"/>
<line x1="91.65" y1="370.35" x2="96.65" y2="370.35" stroke="#0a0a0a" stroke-width="1.3"/>
<circle cx="94.15" cy="364.43" r="1.7" fill="#0a0a0a"/>
<line x1="120.9" y1="355.86" x2="120.9" y2="370.07" stroke="#0a0a0a" stroke-width="1.2"/>
<line x1="118.4" y1="355.86" x2="123.4" y2="355.86" stroke="#0a0a0a" stroke-width="1.3"/>
<line x1="118.4" y1="370.07" x2="123.4" y2="370.07" stroke="#0a0a0a" stroke-width="1.3"/>
<circle cx="120.9" cy="362.96" r="1.7" fill="#0a0a0a"/>
<line x1="147.65" y1="313.97" x2="147.65" y2="329.96" stroke="#0a0a0a" stroke-width="1.2"/>
<line x1="145.15" y1="313.97" x2="150.15" y2="313.97" stroke="#0a0a0a" stroke-width="1.3"/>
<line x1="145.15" y1="329.96" x2="150.15" y2="329.96" stroke="#0a0a0a" stroke-width="1.3"/>
<circle cx="147.65" cy="321.97" r="1.7" fill="#0a0a0a"/>
<line x1="174.4" y1="234.45" x2="174.4" y2="244.61" stroke="#0a0a0a" stroke-width="1.2"/>
<line x1="171.9" y1="234.45" x2="176.9" y2="234.45" stroke="#0a0a0a" stroke-width="1.3"/>
<line x1="171.9" y1="244.61" x2="176.9" y2="244.61" stroke="#0a0a0a" stroke-width="1.3"/>
<circle cx="174.4" cy="239.53" r="1.7" fill="#0a0a0a"/>
<circle cx="201.15" cy="216.3" r="1.7" fill="#0a0a0a"/>
<line x1="227.9" y1="202.67" x2="227.9" y2="215.8" stroke="#0a0a0a" stroke-width="1.2"/>
<line x1="225.4" y1="202.67" x2="230.4" y2="202.67" stroke="#0a0a0a" stroke-width="1.3"/>
<line x1="225.4" y1="215.8" x2="230.4" y2="215.8" stroke="#0a0a0a" stroke-width="1.3"/>
<circle cx="227.9" cy="209.24" r="1.7" fill="#0a0a0a"/>
<path d="M67.4,367.46 L69.2,369.56 L67.4,371.66 L65.6,369.56 Z" fill="#0a0a0a"/>
<path d="M94.15,365.33 L95.95,367.43 L94.15,369.53 L92.35,367.43 Z" fill="#0a0a0a"/>
<path d="M120.9,361.19 L122.7,363.29 L120.9,365.39 L119.1,363.29 Z" fill="#0a0a0a"/>
<line x1="147.65" y1="325.84" x2="147.65" y2="340.99" stroke="#0a0a0a" stroke-width="1.2"/>
<line x1="145.15" y1="325.84" x2="150.15" y2="325.84" stroke="#0a0a0a" stroke-width="1.3"/>
<line x1="145.15" y1="340.99" x2="150.15" y2="340.99" stroke="#0a0a0a" stroke-width="1.3"/>
<path d="M147.65,331.32 L149.45,333.42 L147.65,335.52 L145.85,333.42 Z" fill="#0a0a0a"/>
<path d="M174.4,243.69 L176.2,245.79 L174.4,247.89 L172.6,245.79 Z" fill="#0a0a0a"/>
<line x1="201.15" y1="208.36" x2="201.15" y2="214.27" stroke="#0a0a0a" stroke-width="1.2"/>
<line x1="198.65" y1="208.36" x2="203.65" y2="208.36" stroke="#0a0a0a" stroke-width="1.3"/>
<line x1="198.65" y1="214.27" x2="203.65" y2="214.27" stroke="#0a0a0a" stroke-width="1.3"/>
<path d="M201.15,209.21 L202.95,211.31 L201.15,213.41 L199.35,211.31 Z" fill="#0a0a0a"/>
<line x1="227.9" y1="205.25" x2="227.9" y2="220.91" stroke="#0a0a0a" stroke-width="1.2"/>
<line x1="225.4" y1="205.25" x2="230.4" y2="205.25" stroke="#0a0a0a" stroke-width="1.3"/>
<line x1="225.4" y1="220.91" x2="230.4" y2="220.91" stroke="#0a0a0a" stroke-width="1.3"/>
<path d="M227.9,210.98 L229.7,213.08 L227.9,215.18 L226.1,213.08 Z" fill="#0a0a0a"/>
<path d="M65.3,361.96 L69.5,361.96 L67.4,365.46 Z" fill="#0a0a0a"/>
<path d="M92.05,363.82 L96.25,363.82 L94.15,367.32 Z" fill="#0a0a0a"/>
<path d="M118.8,361.12 L123,361.12 L120.9,364.62 Z" fill="#0a0a0a"/>
<path d="M145.55,342.68 L149.75,342.68 L147.65,346.18 Z" fill="#0a0a0a"/>
<path d="M172.3,261.17 L176.5,261.17 L174.4,264.67 Z" fill="#0a0a0a"/>
<line x1="201.15" y1="207.11" x2="201.15" y2="222.08" stroke="#0a0a0a" stroke-width="1.2"/>
<line x1="198.65" y1="207.11" x2="203.65" y2="207.11" stroke="#0a0a0a" stroke-width="1.3"/>
<line x1="198.65" y1="222.08" x2="203.65" y2="222.08" stroke="#0a0a0a" stroke-width="1.3"/>
<path d="M199.05,213.1 L203.25,213.1 L201.15,216.6 Z" fill="#0a0a0a"/>
<path d="M225.8,210.79 L230,210.79 L227.9,214.29 Z" fill="#0a0a0a"/>
<line x1="67.4" y1="363.09" x2="67.4" y2="371.1" stroke="#0a0a0a" stroke-width="1.2"/>
<line x1="64.9" y1="363.09" x2="69.9" y2="363.09" stroke="#0a0a0a" stroke-width="1.3"/>
<line x1="64.9" y1="371.1" x2="69.9" y2="371.1" stroke="#0a0a0a" stroke-width="1.3"/>
<circle cx="67.4" cy="367.1" r="1.7" fill="#0a0a0a"/>
<line x1="94.15" y1="356.88" x2="94.15" y2="372.8" stroke="#0a0a0a" stroke-width="1.2"/>
<line x1="91.65" y1="356.88" x2="96.65" y2="356.88" stroke="#0a0a0a" stroke-width="1.3"/>
<line x1="91.65" y1="372.8" x2="96.65" y2="372.8" stroke="#0a0a0a" stroke-width="1.3"/>
<circle cx="94.15" cy="364.84" r="1.7" fill="#0a0a0a"/>
<line x1="120.9" y1="360.29" x2="120.9" y2="369.71" stroke="#0a0a0a" stroke-width="1.2"/>
<line x1="118.4" y1="360.29" x2="123.4" y2="360.29" stroke="#0a0a0a" stroke-width="1.3"/>
<line x1="118.4" y1="369.71" x2="123.4" y2="369.71" stroke="#0a0a0a" stroke-width="1.3"/>
<circle cx="120.9" cy="365" r="1.7" fill="#0a0a0a"/>
<circle cx="147.65" cy="362.6" r="1.7" fill="#0a0a0a"/>
<line x1="174.4" y1="284.04" x2="174.4" y2="295.75" stroke="#0a0a0a" stroke-width="1.2"/>
<line x1="171.9" y1="284.04" x2="176.9" y2="284.04" stroke="#0a0a0a" stroke-width="1.3"/>
<line x1="171.9" y1="295.75" x2="176.9" y2="295.75" stroke="#0a0a0a" stroke-width="1.3"/>
<circle cx="174.4" cy="289.89" r="1.7" fill="#0a0a0a"/>
<circle cx="201.15" cy="220.1" r="1.7" fill="#0a0a0a"/>
<circle cx="227.9" cy="213.26" r="1.7" fill="#0a0a0a"/>
<path d="M67.4,363.91 L69.2,366.01 L67.4,368.11 L65.6,366.01 Z" fill="#0a0a0a"/>
<path d="M94.15,366.14 L95.95,368.24 L94.15,370.34 L92.35,368.24 Z" fill="#0a0a0a"/>
<line x1="120.9" y1="360.22" x2="120.9" y2="366.79" stroke="#0a0a0a" stroke-width="1.2"/>
<line x1="118.4" y1="360.22" x2="123.4" y2="360.22" stroke="#0a0a0a" stroke-width="1.3"/>
<line x1="118.4" y1="366.79" x2="123.4" y2="366.79" stroke="#0a0a0a" stroke-width="1.3"/>
<path d="M120.9,361.41 L122.7,363.51 L120.9,365.61 L119.1,363.51 Z" fill="#0a0a0a"/>
<path d="M147.65,356.73 L149.45,358.83 L147.65,360.93 L145.85,358.83 Z" fill="#0a0a0a"/>
<line x1="174.4" y1="302.28" x2="174.4" y2="311.34" stroke="#0a0a0a" stroke-width="1.2"/>
<line x1="171.9" y1="302.28" x2="176.9" y2="302.28" stroke="#0a0a0a" stroke-width="1.3"/>
<line x1="171.9" y1="311.34" x2="176.9" y2="311.34" stroke="#0a0a0a" stroke-width="1.3"/>
<path d="M174.4,304.71 L176.2,306.81 L174.4,308.91 L172.6,306.81 Z" fill="#0a0a0a"/>
<line x1="201.15" y1="219.69" x2="201.15" y2="231.73" stroke="#0a0a0a" stroke-width="1.2"/>
<line x1="198.65" y1="219.69" x2="203.65" y2="219.69" stroke="#0a0a0a" stroke-width="1.3"/>
<line x1="198.65" y1="231.73" x2="203.65" y2="231.73" stroke="#0a0a0a" stroke-width="1.3"/>
<path d="M201.15,223.61 L202.95,225.71 L201.15,227.81 L199.35,225.71 Z" fill="#0a0a0a"/>
<path d="M227.9,216.19 L229.7,218.29 L227.9,220.39 L226.1,218.29 Z" fill="#0a0a0a"/>
<path d="M65.3,364.53 L69.5,364.53 L67.4,368.03 Z" fill="#0a0a0a"/>
<path d="M92.05,366.69 L96.25,366.69 L94.15,370.19 Z" fill="#0a0a0a"/>
<line x1="120.9" y1="360.4" x2="120.9" y2="371.37" stroke="#0a0a0a" stroke-width="1.2"/>
<line x1="118.4" y1="360.4" x2="123.4" y2="360.4" stroke="#0a0a0a" stroke-width="1.3"/>
<line x1="118.4" y1="371.37" x2="123.4" y2="371.37" stroke="#0a0a0a" stroke-width="1.3"/>
<path d="M118.8,364.38 L123,364.38 L120.9,367.88 Z" fill="#0a0a0a"/>
<line x1="147.65" y1="359.83" x2="147.65" y2="371.16" stroke="#0a0a0a" stroke-width="1.2"/>
<line x1="145.15" y1="359.83" x2="150.15" y2="359.83" stroke="#0a0a0a" stroke-width="1.3"/>
<line x1="145.15" y1="371.16" x2="150.15" y2="371.16" stroke="#0a0a0a" stroke-width="1.3"/>
<path d="M145.55,363.99 L149.75,363.99 L147.65,367.49 Z" fill="#0a0a0a"/>
<line x1="174.4" y1="320.9" x2="174.4" y2="332.81" stroke="#0a0a0a" stroke-width="1.2"/>
<line x1="171.9" y1="320.9" x2="176.9" y2="320.9" stroke="#0a0a0a" stroke-width="1.3"/>
<line x1="171.9" y1="332.81" x2="176.9" y2="332.81" stroke="#0a0a0a" stroke-width="1.3"/>
<path d="M172.3,325.35 L176.5,325.35 L174.4,328.85 Z" fill="#0a0a0a"/>
<line x1="201.15" y1="216.91" x2="201.15" y2="226.96" stroke="#0a0a0a" stroke-width="1.2"/>
<line x1="198.65" y1="216.91" x2="203.65" y2="216.91" stroke="#0a0a0a" stroke-width="1.3"/>
<line x1="198.65" y1="226.96" x2="203.65" y2="226.96" stroke="#0a0a0a" stroke-width="1.3"/>
<path d="M199.05,220.44 L203.25,220.44 L201.15,223.94 Z" fill="#0a0a0a"/>
<line x1="227.9" y1="207.2" x2="227.9" y2="219.95" stroke="#0a0a0a" stroke-width="1.2"/>
<line x1="225.4" y1="207.2" x2="230.4" y2="207.2" stroke="#0a0a0a" stroke-width="1.3"/>
<line x1="225.4" y1="219.95" x2="230.4" y2="219.95" stroke="#0a0a0a" stroke-width="1.3"/>
<path d="M225.8,212.08 L230,212.08 L227.9,215.58 Z" fill="#0a0a0a"/>
<circle cx="67.4" cy="369.91" r="1.7" fill="#0a0a0a"/>
<circle cx="94.15" cy="362.33" r="1.7" fill="#0a0a0a"/>
<line x1="120.9" y1="360.25" x2="120.9" y2="368.66" stroke="#0a0a0a" stroke-width="1.2"/>
<line x1="118.4" y1="360.25" x2="123.4" y2="360.25" stroke="#0a0a0a" stroke-width="1.3"/>
<line x1="118.4" y1="368.66" x2="123.4" y2="368.66" stroke="#0a0a0a" stroke-width="1.3"/>
<circle cx="120.9" cy="364.46" r="1.7" fill="#0a0a0a"/>
<line x1="147.65" y1="344.01" x2="147.65" y2="352.97" stroke="#0a0a0a" stroke-width="1.2"/>
<line x1="145.15" y1="344.01" x2="150.15" y2="344.01" stroke="#0a0a0a" stroke-width="1.3"/>
<line x1="145.15" y1="352.97" x2="150.15" y2="352.97" stroke="#0a0a0a" stroke-width="1.3"/>
<circle cx="147.65" cy="348.49" r="1.7" fill="#0a0a0a"/>
<circle cx="174.4" cy="261.13" r="1.7" fill="#0a0a0a"/>
<line x1="201.15" y1="233.96" x2="201.15" y2="245.17" stroke="#0a0a0a" stroke-width="1.2"/>
<line x1="198.65" y1="233.96" x2="203.65" y2="233.96" stroke="#0a0a0a" stroke-width="1.3"/>
<line x1="198.65" y1="245.17" x2="203.65" y2="245.17" stroke="#0a0a0a" stroke-width="1.3"/>
<circle cx="201.15" cy="239.57" r="1.7" fill="#0a0a0a"/>
<circle cx="227.9" cy="236.13" r="1.7" fill="#0a0a0a"/>
<path d="M67.4,367.68 L69.2,369.78 L67.4,371.88 L65.6,369.78 Z" fill="#0a0a0a"/>
<line x1="94.15" y1="363.11" x2="94.15" y2="369.06" stroke="#0a0a0a" stroke-width="1.2"/>
<line x1="91.65" y1="363.11" x2="96.65" y2="363.11" stroke="#0a0a0a" stroke-width="1.3"/>
<line x1="91.65" y1="369.06" x2="96.65" y2="369.06" stroke="#0a0a0a" stroke-width="1.3"/>
<path d="M94.15,363.99 L95.95,366.09 L94.15,368.19 L92.35,366.09 Z" fill="#0a0a0a"/>
<path d="M120.9,366.58 L122.7,368.68 L120.9,370.78 L119.1,368.68 Z" fill="#0a0a0a"/>
<line x1="147.65" y1="353.5" x2="147.65" y2="360.22" stroke="#0a0a0a" stroke-width="1.2"/>
<line x1="145.15" y1="353.5" x2="150.15" y2="353.5" stroke="#0a0a0a" stroke-width="1.3"/>
<line x1="145.15" y1="360.22" x2="150.15" y2="360.22" stroke="#0a0a0a" stroke-width="1.3"/>
<path d="M147.65,354.76 L149.45,356.86 L147.65,358.96 L145.85,356.86 Z" fill="#0a0a0a"/>
<line x1="174.4" y1="277.75" x2="174.4" y2="292.5" stroke="#0a0a0a" stroke-width="1.2"/>
<line x1="171.9" y1="277.75" x2="176.9" y2="277.75" stroke="#0a0a0a" stroke-width="1.3"/>
<line x1="171.9" y1="292.5" x2="176.9" y2="292.5" stroke="#0a0a0a" stroke-width="1.3"/>
<path d="M174.4,283.02 L176.2,285.12 L174.4,287.22 L172.6,285.12 Z" fill="#0a0a0a"/>
<line x1="201.15" y1="238.43" x2="201.15" y2="244.6" stroke="#0a0a0a" stroke-width="1.2"/>
<line x1="198.65" y1="238.43" x2="203.65" y2="238.43" stroke="#0a0a0a" stroke-width="1.3"/>
<line x1="198.65" y1="244.6" x2="203.65" y2="244.6" stroke="#0a0a0a" stroke-width="1.3"/>
<path d="M201.15,239.42 L202.95,241.52 L201.15,243.62 L199.35,241.52 Z" fill="#0a0a0a"/>
<path d="M227.9,236.67 L229.7,238.77 L227.9,240.87 L226.1,238.77 Z" fill="#0a0a0a"/>
<path d="M65.3,367.12 L69.5,367.12 L67.4,370.62 Z" fill="#0a0a0a"/>
<line x1="94.15" y1="358" x2="94.15" y2="371.86" stroke="#0a0a0a" stroke-width="1.2"/>
<line x1="91.65" y1="358" x2="96.65" y2="358" stroke="#0a0a0a" stroke-width="1.3"/>
<line x1="91.65" y1="371.86" x2="96.65" y2="371.86" stroke="#0a0a0a" stroke-width="1.3"/>
<path d="M92.05,363.43 L96.25,363.43 L94.15,366.93 Z" fill="#0a0a0a"/>
<path d="M118.8,367.23 L123,367.23 L120.9,370.73 Z" fill="#0a0a0a"/>
<line x1="147.65" y1="358.1" x2="147.65" y2="366.8" stroke="#0a0a0a" stroke-width="1.2"/>
<line x1="145.15" y1="358.1" x2="150.15" y2="358.1" stroke="#0a0a0a" stroke-width="1.3"/>
<line x1="145.15" y1="366.8" x2="150.15" y2="366.8" stroke="#0a0a0a" stroke-width="1.3"/>
<path d="M145.55,360.95 L149.75,360.95 L147.65,364.45 Z" fill="#0a0a0a"/>
<path d="M172.3,313.9 L176.5,313.9 L174.4,317.4 Z" fill="#0a0a0a"/>
<path d="M199.05,270.15 L203.25,270.15 L201.15,273.65 Z" fill="#0a0a0a"/>
<line x1="227.9" y1="252.76" x2="227.9" y2="268.65" stroke="#0a0a0a" stroke-width="1.2"/>
<line x1="225.4" y1="252.76" x2="230.4" y2="252.76" stroke="#0a0a0a" stroke-width="1.3"/>
<line x1="225.4" y1="268.65" x2="230.4" y2="268.65" stroke="#0a0a0a" stroke-width="1.3"/>
<path d="M225.8,259.2 L230,259.2 L227.9,262.7 Z" fill="#0a0a0a"/>
<line x1="67.4" y1="354.86" x2="67.4" y2="370.09" stroke="#0a0a0a" stroke-width="1.2"/>
<line x1="64.9" y1="354.86" x2="69.9" y2="354.86" stroke="#0a0a0a" stroke-width="1.3"/>
<line x1="64.9" y1="370.09" x2="69.9" y2="370.09" stroke="#0a0a0a" stroke-width="1.3"/>
<circle cx="67.4" cy="362.47" r="1.7" fill="#0a0a0a"/>
<circle cx="94.15" cy="364.11" r="1.7" fill="#0a0a0a"/>
<line x1="120.9" y1="361.88" x2="120.9" y2="369.93" stroke="#0a0a0a" stroke-width="1.2"/>
<line x1="118.4" y1="361.88" x2="123.4" y2="361.88" stroke="#0a0a0a" stroke-width="1.3"/>
<line x1="118.4" y1="369.93" x2="123.4" y2="369.93" stroke="#0a0a0a" stroke-width="1.3"/>
<circle cx="120.9" cy="365.9" r="1.7" fill="#0a0a0a"/>
<line x1="147.65" y1="365.14" x2="147.65" y2="370.72" stroke="#0a0a0a" stroke-width="1.2"/>
<line x1="145.15" y1="365.14" x2="150.15" y2="365.14" stroke="#0a0a0a" stroke-width="1.3"/>
<line x1="145.15" y1="370.72" x2="150.15" y2="370.72" stroke="#0a0a0a" stroke-width="1.3"/>
<circle cx="147.65" cy="367.93" r="1.7" fill="#0a0a0a"/>
<line x1="174.4" y1="356.82" x2="174.4" y2="370.73" stroke="#0a0a0a" stroke-width="1.2"/>
<line x1="171.9" y1="356.82" x2="176.9" y2="356.82" stroke="#0a0a0a" stroke-width="1.3"/>
<line x1="171.9" y1="370.73" x2="176.9" y2="370.73" stroke="#0a0a0a" stroke-width="1.3"/>
<circle cx="174.4" cy="363.78" r="1.7" fill="#0a0a0a"/>
<circle cx="201.15" cy="335.58" r="1.7" fill="#0a0a0a"/>
<line x1="227.9" y1="304.92" x2="227.9" y2="319.84" stroke="#0a0a0a" stroke-width="1.2"/>
<line x1="225.4" y1="304.92" x2="230.4" y2="304.92" stroke="#0a0a0a" stroke-width="1.3"/>
<line x1="225.4" y1="319.84" x2="230.4" y2="319.84" stroke="#0a0a0a" stroke-width="1.3"/>
<circle cx="227.9" cy="312.38" r="1.7" fill="#0a0a0a"/>
<line x1="67.4" y1="365" x2="67.4" y2="374.1" stroke="#0a0a0a" stroke-width="1.2"/>
<line x1="64.9" y1="365" x2="69.9" y2="365" stroke="#0a0a0a" stroke-width="1.3"/>
<line x1="64.9" y1="374.1" x2="69.9" y2="374.1" stroke="#0a0a0a" stroke-width="1.3"/>
<path d="M67.4,369.49 L69.2,371.59 L67.4,373.69 L65.6,371.59 Z" fill="#0a0a0a"/>
<path d="M94.15,367.19 L95.95,369.29 L94.15,371.39 L92.35,369.29 Z" fill="#0a0a0a"/>
<path d="M120.9,366.26 L122.7,368.36 L120.9,370.46 L119.1,368.36 Z" fill="#0a0a0a"/>
<path d="M147.65,366.6 L149.45,368.7 L147.65,370.8 L145.85,368.7 Z" fill="#0a0a0a"/>
<line x1="174.4" y1="357.25" x2="174.4" y2="370.85" stroke="#0a0a0a" stroke-width="1.2"/>
<line x1="171.9" y1="357.25" x2="176.9" y2="357.25" stroke="#0a0a0a" stroke-width="1.3"/>
<line x1="171.9" y1="370.85" x2="176.9" y2="370.85" stroke="#0a0a0a" stroke-width="1.3"/>
<path d="M174.4,361.95 L176.2,364.05 L174.4,366.15 L172.6,364.05 Z" fill="#0a0a0a"/>
<path d="M201.15,339.74 L202.95,341.84 L201.15,343.94 L199.35,341.84 Z" fill="#0a0a0a"/>
<path d="M227.9,320.77 L229.7,322.87 L227.9,324.97 L226.1,322.87 Z" fill="#0a0a0a"/>
<line x1="174.4" y1="220.76" x2="174.4" y2="232.31" stroke="#0a0a0a" stroke-width="1.2"/>
<line x1="171.9" y1="220.76" x2="176.9" y2="220.76" stroke="#0a0a0a" stroke-width="1.3"/>
<line x1="171.9" y1="232.31" x2="176.9" y2="232.31" stroke="#0a0a0a" stroke-width="1.3"/>
<path d="M174.4,224.44 L176.2,226.54 L174.4,228.64 L172.6,226.54 Z" fill="#0a0a0a"/>
<line x1="147.65" y1="308.34" x2="147.65" y2="350.04" stroke="#0a0a0a" stroke-width="1.2"/>
<line x1="145.15" y1="308.34" x2="150.15" y2="308.34" stroke="#0a0a0a" stroke-width="1.3"/>
<line x1="145.15" y1="350.04" x2="150.15" y2="350.04" stroke="#0a0a0a" stroke-width="1.3"/>
<path d="M147.65,327.09 L149.45,329.19 L147.65,331.29 L145.85,329.19 Z" fill="#0a0a0a"/>
<line x1="67.4" y1="351.65" x2="67.4" y2="374.1" stroke="#0a0a0a" stroke-width="1.2"/>
<line x1="64.9" y1="351.65" x2="69.9" y2="351.65" stroke="#0a0a0a" stroke-width="1.3"/>
<line x1="64.9" y1="374.1" x2="69.9" y2="374.1" stroke="#0a0a0a" stroke-width="1.3"/>
<line x1="201.15" y1="328.39" x2="201.15" y2="344.43" stroke="#0a0a0a" stroke-width="1.2"/>
<line x1="198.65" y1="328.39" x2="203.65" y2="328.39" stroke="#0a0a0a" stroke-width="1.3"/>
<line x1="198.65" y1="344.43" x2="203.65" y2="344.43" stroke="#0a0a0a" stroke-width="1.3"/>
<circle cx="201.15" cy="336.41" r="1.7" fill="#0a0a0a"/>
<line x1="227.9" y1="308.82" x2="227.9" y2="331.92" stroke="#0a0a0a" stroke-width="1.2"/>
<line x1="225.4" y1="308.82" x2="230.4" y2="308.82" stroke="#0a0a0a" stroke-width="1.3"/>
<line x1="225.4" y1="331.92" x2="230.4" y2="331.92" stroke="#0a0a0a" stroke-width="1.3"/>
<circle cx="227.9" cy="320.37" r="1.7" fill="#0a0a0a"/>
<path d="M67.4,369.29L68.74,369.29L70.08,369.29L71.41,369.29L72.75,369.29L74.09,369.29L75.42,369.29L76.76,369.29L78.1,369.29L79.44,369.29L80.78,369.29L82.11,369.29L83.45,369.29L84.79,369.29L86.12,369.29L87.46,369.29L88.8,369.29L90.14,369.29L91.47,369.29L92.81,369.29L94.15,369.29L95.49,369.29L96.83,369.29L98.16,369.29L99.5,369.29L100.84,369.29L102.18,369.29L103.51,369.29L104.85,369.29L106.19,369.29L107.53,369.29L108.86,369.28L110.2,369.28L111.54,369.28L112.88,369.28L114.21,369.28L115.55,369.27L116.89,369.27L118.23,369.27L119.56,369.27L120.9,369.26L122.24,369.26L123.58,369.25L124.91,369.24L126.25,369.24L127.59,369.23L128.93,369.22L130.26,369.2L131.6,369.19L132.94,369.17L134.28,369.15L135.61,369.13L136.95,369.1L138.29,369.07L139.62,369.04L140.96,369L142.3,368.95L143.64,368.9L144.97,368.83L146.31,368.76L147.65,368.67L148.99,368.57L150.33,368.46L151.66,368.32L153,368.17L154.34,367.99L155.68,367.78L157.01,367.54L158.35,367.26L159.69,366.94L161.03,366.56L162.36,366.13L163.7,365.64L165.04,365.07L166.38,364.41L167.71,363.65L169.05,362.78L170.39,361.79L171.72,360.66L173.06,359.37L174.4,357.9L175.74,356.23L177.07,354.36L178.41,352.25L179.75,349.89L181.09,347.26L182.43,344.35L183.76,341.16L185.1,337.67L186.44,333.89L187.78,329.83L189.11,325.5L190.45,320.94L191.79,316.17L193.12,311.25L194.46,306.21L195.8,301.12L197.14,296.03L198.48,290.99L199.81,286.07L201.15,281.3L202.49,276.74L203.82,272.42L205.16,268.36L206.5,264.58L207.84,261.09L209.18,257.89L210.51,254.98L211.85,252.36L213.19,250L214.53,247.89L215.86,246.01L217.2,244.35L218.54,242.88L219.88,241.59L221.21,240.45L222.55,239.46L223.89,238.59L225.23,237.84L226.56,237.18L227.9,236.61" fill="none" stroke="#d81a26" stroke-width="1.45"/>
<path d="M67.4,367.69L68.74,367.69L70.08,367.69L71.41,367.69L72.75,367.69L74.09,367.69L75.42,367.69L76.76,367.69L78.1,367.69L79.44,367.69L80.78,367.69L82.11,367.69L83.45,367.69L84.79,367.69L86.12,367.69L87.46,367.69L88.8,367.69L90.14,367.69L91.47,367.69L92.81,367.69L94.15,367.69L95.49,367.69L96.83,367.69L98.16,367.69L99.5,367.69L100.84,367.69L102.18,367.69L103.51,367.69L104.85,367.68L106.19,367.68L107.53,367.68L108.86,367.68L110.2,367.68L111.54,367.68L112.88,367.68L114.21,367.68L115.55,367.68L116.89,367.68L118.23,367.67L119.56,367.67L120.9,367.67L122.24,367.67L123.58,367.66L124.91,367.66L126.25,367.65L127.59,367.65L128.93,367.64L130.26,367.63L131.6,367.62L132.94,367.61L134.28,367.6L135.61,367.59L136.95,367.57L138.29,367.55L139.62,367.53L140.96,367.51L142.3,367.48L143.64,367.44L144.97,367.4L146.31,367.36L147.65,367.3L148.99,367.24L150.33,367.17L151.66,367.09L153,366.99L154.34,366.88L155.68,366.75L157.01,366.6L158.35,366.42L159.69,366.22L161.03,365.99L162.36,365.72L163.7,365.41L165.04,365.05L166.38,364.64L167.71,364.16L169.05,363.61L170.39,362.98L171.72,362.25L173.06,361.42L174.4,360.48L175.74,359.4L177.07,358.17L178.41,356.78L179.75,355.21L181.09,353.45L182.43,351.48L183.76,349.28L185.1,346.86L186.44,344.19L187.78,341.27L189.11,338.12L190.45,334.72L191.79,331.11L193.12,327.3L194.46,323.32L195.8,319.21L197.14,315L198.48,310.75L199.81,306.49L201.15,302.29L202.49,298.17L203.82,294.19L205.16,290.38L206.5,286.77L207.84,283.38L209.18,280.22L210.51,277.31L211.85,274.64L213.19,272.21L214.53,270.01L215.86,268.04L217.2,266.28L218.54,264.71L219.88,263.32L221.21,262.1L222.55,261.02L223.89,260.07L225.23,259.24L226.56,258.52L227.9,257.88" fill="none" stroke="#d81a26" stroke-width="1.45"/>
<path d="M67.4,365.28L68.74,365.28L70.08,365.28L71.41,365.28L72.75,365.28L74.09,365.28L75.42,365.28L76.76,365.28L78.1,365.28L79.44,365.28L80.78,365.28L82.11,365.28L83.45,365.28L84.79,365.28L86.12,365.28L87.46,365.28L88.8,365.28L90.14,365.28L91.47,365.28L92.81,365.28L94.15,365.28L95.49,365.28L96.83,365.28L98.16,365.28L99.5,365.28L100.84,365.28L102.18,365.28L103.51,365.28L104.85,365.28L106.19,365.28L107.53,365.28L108.86,365.28L110.2,365.28L111.54,365.28L112.88,365.28L114.21,365.28L115.55,365.27L116.89,365.27L118.23,365.27L119.56,365.27L120.9,365.27L122.24,365.26L123.58,365.26L124.91,365.26L126.25,365.26L127.59,365.25L128.93,365.25L130.26,365.24L131.6,365.23L132.94,365.23L134.28,365.22L135.61,365.21L136.95,365.19L138.29,365.18L139.62,365.16L140.96,365.14L142.3,365.12L143.64,365.1L144.97,365.07L146.31,365.03L147.65,364.99L148.99,364.94L150.33,364.89L151.66,364.83L153,364.75L154.34,364.67L155.68,364.57L157.01,364.46L158.35,364.32L159.69,364.17L161.03,363.99L162.36,363.79L163.7,363.55L165.04,363.28L166.38,362.96L167.71,362.59L169.05,362.17L170.39,361.69L171.72,361.13L173.06,360.5L174.4,359.77L175.74,358.93L177.07,357.98L178.41,356.9L179.75,355.68L181.09,354.3L182.43,352.75L183.76,351.01L185.1,349.08L186.44,346.94L187.78,344.59L189.11,342.03L190.45,339.25L191.79,336.26L193.12,333.08L194.46,329.73L195.8,326.22L197.14,322.6L198.48,318.9L199.81,315.16L201.15,311.41L202.49,307.71L203.82,304.09L205.16,300.59L206.5,297.23L207.84,294.05L209.18,291.06L210.51,288.28L211.85,285.72L213.19,283.37L214.53,281.23L215.86,279.3L217.2,277.57L218.54,276.01L219.88,274.63L221.21,273.41L222.55,272.33L223.89,271.38L225.23,270.55L226.56,269.82L227.9,269.18" fill="none" stroke="#d81a26" stroke-width="1.45"/>
<path d="M67.4,362.07L68.74,362.07L70.08,362.07L71.41,362.07L72.75,362.07L74.09,362.07L75.42,362.07L76.76,362.07L78.1,362.07L79.44,362.07L80.78,362.07L82.11,362.07L83.45,362.07L84.79,362.07L86.12,362.07L87.46,362.07L88.8,362.07L90.14,362.07L91.47,362.07L92.81,362.07L94.15,362.07L95.49,362.07L96.83,362.07L98.16,362.07L99.5,362.07L100.84,362.07L102.18,362.07L103.51,362.07L104.85,362.07L106.19,362.07L107.53,362.07L108.86,362.07L110.2,362.07L111.54,362.07L112.88,362.07L114.21,362.07L115.55,362.07L116.89,362.07L118.23,362.06L119.56,362.06L120.9,362.06L122.24,362.06L123.58,362.06L124.91,362.05L126.25,362.05L127.59,362.05L128.93,362.04L130.26,362.04L131.6,362.04L132.94,362.03L134.28,362.02L135.61,362.02L136.95,362.01L138.29,362L139.62,361.99L140.96,361.97L142.3,361.96L143.64,361.94L144.97,361.92L146.31,361.9L147.65,361.87L148.99,361.84L150.33,361.81L151.66,361.77L153,361.73L154.34,361.68L155.68,361.62L157.01,361.55L158.35,361.47L159.69,361.39L161.03,361.29L162.36,361.17L163.7,361.04L165.04,360.89L166.38,360.72L167.71,360.53L169.05,360.3L170.39,360.05L171.72,359.77L173.06,359.44L174.4,359.08L175.74,358.66L177.07,358.19L178.41,357.67L179.75,357.08L181.09,356.42L182.43,355.69L183.76,354.88L185.1,353.99L186.44,353L187.78,351.93L189.11,350.76L190.45,349.51L191.79,348.16L193.12,346.72L194.46,345.21L195.8,343.62L197.14,341.97L198.48,340.28L199.81,338.55L201.15,336.81L202.49,335.07L203.82,333.34L205.16,331.65L206.5,330L207.84,328.42L209.18,326.9L210.51,325.47L211.85,324.12L213.19,322.86L214.53,321.69L215.86,320.62L217.2,319.63L218.54,318.74L219.88,317.93L221.21,317.2L222.55,316.54L223.89,315.95L225.23,315.43L226.56,314.96L227.9,314.55" fill="none" stroke="#d81a26" stroke-width="1.45"/>
<path d="M67.4,370.09L68.74,370.09L70.08,370.09L71.41,370.09L72.75,370.09L74.09,370.09L75.42,370.09L76.76,370.09L78.1,370.09L79.44,370.09L80.78,370.09L82.11,370.09L83.45,370.09L84.79,370.09L86.12,370.09L87.46,370.09L88.8,370.09L90.14,370.09L91.47,370.09L92.81,370.09L94.15,370.09L95.49,370.09L96.83,370.09L98.16,370.09L99.5,370.09L100.84,370.09L102.18,370.09L103.51,370.09L104.85,370.09L106.19,370.09L107.53,370.09L108.86,370.09L110.2,370.09L111.54,370.09L112.88,370.09L114.21,370.09L115.55,370.09L116.89,370.09L118.23,370.08L119.56,370.08L120.9,370.08L122.24,370.08L123.58,370.08L124.91,370.07L126.25,370.07L127.59,370.07L128.93,370.06L130.26,370.06L131.6,370.05L132.94,370.05L134.28,370.04L135.61,370.03L136.95,370.03L138.29,370.02L139.62,370L140.96,369.99L142.3,369.97L143.64,369.96L144.97,369.94L146.31,369.91L147.65,369.89L148.99,369.86L150.33,369.82L151.66,369.78L153,369.74L154.34,369.68L155.68,369.62L157.01,369.55L158.35,369.47L159.69,369.38L161.03,369.28L162.36,369.16L163.7,369.03L165.04,368.87L166.38,368.7L167.71,368.5L169.05,368.27L170.39,368.01L171.72,367.71L173.06,367.38L174.4,367L175.74,366.57L177.07,366.09L178.41,365.55L179.75,364.94L181.09,364.27L182.43,363.51L183.76,362.67L185.1,361.75L186.44,360.74L187.78,359.63L189.11,358.42L190.45,357.13L191.79,355.73L193.12,354.25L194.46,352.69L195.8,351.05L197.14,349.35L198.48,347.61L199.81,345.83L201.15,344.03L202.49,342.23L203.82,340.45L205.16,338.7L206.5,337L207.84,335.37L209.18,333.8L210.51,332.32L211.85,330.93L213.19,329.63L214.53,328.43L215.86,327.32L217.2,326.31L218.54,325.38L219.88,324.55L221.21,323.79L222.55,323.12L223.89,322.51L225.23,321.97L226.56,321.49L227.9,321.06" fill="none" stroke="#d81a26" stroke-width="1.45"/>
<path d="M67.4,364.48L68.74,364.48L70.08,364.48L71.41,364.48L72.75,364.48L74.09,364.48L75.42,364.48L76.76,364.48L78.1,364.48L79.44,364.48L80.78,364.48L82.11,364.48L83.45,364.48L84.79,364.48L86.12,364.48L87.46,364.48L88.8,364.48L90.14,364.48L91.47,364.48L92.81,364.48L94.15,364.48L95.49,364.48L96.83,364.48L98.16,364.48L99.5,364.48L100.84,364.48L102.18,364.47L103.51,364.47L104.85,364.47L106.19,364.47L107.53,364.47L108.86,364.47L110.2,364.47L111.54,364.47L112.88,364.47L114.21,364.46L115.55,364.46L116.89,364.46L118.23,364.46L119.56,364.46L120.9,364.45L122.24,364.45L123.58,364.45L124.91,364.44L126.25,364.44L127.59,364.43L128.93,364.43L130.26,364.42L131.6,364.41L132.94,364.4L134.28,364.39L135.61,364.38L136.95,364.37L138.29,364.36L139.62,364.34L140.96,364.33L142.3,364.31L143.64,364.29L144.97,364.27L146.31,364.24L147.65,364.21L148.99,364.18L150.33,364.14L151.66,364.1L153,364.05L154.34,364L155.68,363.95L157.01,363.88L158.35,363.81L159.69,363.73L161.03,363.64L162.36,363.55L163.7,363.44L165.04,363.31L166.38,363.18L167.71,363.03L169.05,362.86L170.39,362.68L171.72,362.47L173.06,362.25L174.4,362L175.74,361.73L177.07,361.43L178.41,361.11L179.75,360.75L181.09,360.36L182.43,359.94L183.76,359.49L185.1,359.01L186.44,358.48L187.78,357.93L189.11,357.34L190.45,356.72L191.79,356.06L193.12,355.38L194.46,354.67L195.8,353.93L197.14,353.18L198.48,352.41L199.81,351.63L201.15,350.85L202.49,350.06L203.82,349.28L205.16,348.51L206.5,347.76L207.84,347.03L209.18,346.32L210.51,345.63L211.85,344.98L213.19,344.35L214.53,343.76L215.86,343.21L217.2,342.69L218.54,342.2L219.88,341.75L221.21,341.33L222.55,340.94L223.89,340.59L225.23,340.26L226.56,339.96L227.9,339.69" fill="none" stroke="#d81a26" stroke-width="1.45"/>
<path d="M67.4,361.27L68.74,361.27L70.08,361.27L71.41,361.27L72.75,361.27L74.09,361.27L75.42,361.27L76.76,361.27L78.1,361.27L79.44,361.27L80.78,361.27L82.11,361.27L83.45,361.27L84.79,361.27L86.12,361.27L87.46,361.27L88.8,361.27L90.14,361.27L91.47,361.27L92.81,361.27L94.15,361.27L95.49,361.27L96.83,361.27L98.16,361.27L99.5,361.27L100.84,361.27L102.18,361.27L103.51,361.27L104.85,361.27L106.19,361.27L107.53,361.26L108.86,361.26L110.2,361.26L111.54,361.26L112.88,361.26L114.21,361.26L115.55,361.25L116.89,361.25L118.23,361.25L119.56,361.24L120.9,361.24L122.24,361.24L123.58,361.23L124.91,361.22L126.25,361.22L127.59,361.21L128.93,361.2L130.26,361.19L131.6,361.18L132.94,361.16L134.28,361.15L135.61,361.13L136.95,361.11L138.29,361.08L139.62,361.06L140.96,361.03L142.3,360.99L143.64,360.95L144.97,360.91L146.31,360.85L147.65,360.8L148.99,360.73L150.33,360.66L151.66,360.57L153,360.48L154.34,360.38L155.68,360.26L157.01,360.13L158.35,359.99L159.69,359.83L161.03,359.66L162.36,359.48L163.7,359.28L165.04,359.06L166.38,358.83L167.71,358.59L169.05,358.34L170.39,358.08L171.72,357.81L173.06,357.54L174.4,357.26L175.74,356.99L177.07,356.71L178.41,356.44L179.75,356.18L181.09,355.93L182.43,355.69L183.76,355.46L185.1,355.25L186.44,355.05L187.78,354.86L189.11,354.69L190.45,354.54L191.79,354.39L193.12,354.26L194.46,354.15L195.8,354.04L197.14,353.95L198.48,353.87L199.81,353.79L201.15,353.73L202.49,353.67L203.82,353.62L205.16,353.57L206.5,353.53L207.84,353.5L209.18,353.47L210.51,353.44L211.85,353.42L213.19,353.4L214.53,353.38L215.86,353.36L217.2,353.35L218.54,353.34L219.88,353.32L221.21,353.32L222.55,353.31L223.89,353.3L225.23,353.29L226.56,353.29L227.9,353.28" fill="none" stroke="#d81a26" stroke-width="1.45"/>
<path d="M67.4,370.9L68.74,370.9L70.08,370.9L71.41,370.9L72.75,370.9L74.09,370.9L75.42,370.9L76.76,370.9L78.1,370.9L79.44,370.9L80.78,370.9L82.11,370.9L83.45,370.9L84.79,370.9L86.12,370.9L87.46,370.9L88.8,370.9L90.14,370.9L91.47,370.9L92.81,370.9L94.15,370.9L95.49,370.9L96.83,370.9L98.16,370.9L99.5,370.9L100.84,370.9L102.18,370.9L103.51,370.9L104.85,370.9L106.19,370.9L107.53,370.9L108.86,370.9L110.2,370.9L111.54,370.9L112.88,370.9L114.21,370.9L115.55,370.9L116.89,370.9L118.23,370.9L119.56,370.9L120.9,370.9L122.24,370.9L123.58,370.9L124.91,370.9L126.25,370.9L127.59,370.9L128.93,370.9L130.26,370.9L131.6,370.9L132.94,370.9L134.28,370.9L135.61,370.9L136.95,370.9L138.29,370.9L139.62,370.9L140.96,370.9L142.3,370.9L143.64,370.89L144.97,370.89L146.31,370.89L147.65,370.89L148.99,370.89L150.33,370.89L151.66,370.89L153,370.89L154.34,370.89L155.68,370.89L157.01,370.89L158.35,370.89L159.69,370.89L161.03,370.88L162.36,370.88L163.7,370.88L165.04,370.88L166.38,370.87L167.71,370.87L169.05,370.86L170.39,370.86L171.72,370.85L173.06,370.84L174.4,370.83L175.74,370.82L177.07,370.81L178.41,370.79L179.75,370.77L181.09,370.75L182.43,370.72L183.76,370.69L185.1,370.65L186.44,370.6L187.78,370.55L189.11,370.48L190.45,370.4L191.79,370.31L193.12,370.2L194.46,370.07L195.8,369.92L197.14,369.74L198.48,369.53L199.81,369.27L201.15,368.98L202.49,368.63L203.82,368.22L205.16,367.74L206.5,367.18L207.84,366.53L209.18,365.78L210.51,364.9L211.85,363.9L213.19,362.75L214.53,361.45L215.86,359.98L217.2,358.34L218.54,356.51L219.88,354.51L221.21,352.34L222.55,350.01L223.89,347.54L225.23,344.97L226.56,342.31L227.9,339.62" fill="none" stroke="#d81a26" stroke-width="1.45"/>
<path d="M67.4,366.88L68.74,366.87L70.08,366.87L71.41,366.87L72.75,366.87L74.09,366.87L75.42,366.87L76.76,366.86L78.1,366.86L79.44,366.86L80.78,366.85L82.11,366.85L83.45,366.84L84.79,366.84L86.12,366.83L87.46,366.83L88.8,366.82L90.14,366.81L91.47,366.8L92.81,366.79L94.15,366.78L95.49,366.77L96.83,366.76L98.16,366.74L99.5,366.72L100.84,366.7L102.18,366.68L103.51,366.66L104.85,366.63L106.19,366.6L107.53,366.57L108.86,366.53L110.2,366.49L111.54,366.44L112.88,366.39L114.21,366.33L115.55,366.27L116.89,366.2L118.23,366.12L119.56,366.03L120.9,365.94L122.24,365.83L123.58,365.72L124.91,365.6L126.25,365.46L127.59,365.31L128.93,365.15L130.26,364.98L131.6,364.79L132.94,364.59L134.28,364.38L135.61,364.16L136.95,363.92L138.29,363.67L139.62,363.41L140.96,363.13L142.3,362.85L143.64,362.56L144.97,362.27L146.31,361.97L147.65,361.67L148.99,361.37L150.33,361.08L151.66,360.78L153,360.49L154.34,360.21L155.68,359.94L157.01,359.68L158.35,359.43L159.69,359.19L161.03,358.96L162.36,358.75L163.7,358.55L165.04,358.37L166.38,358.19L167.71,358.03L169.05,357.89L170.39,357.75L171.72,357.63L173.06,357.51L174.4,357.41L175.74,357.31L177.07,357.23L178.41,357.15L179.75,357.08L181.09,357.02L182.43,356.96L183.76,356.91L185.1,356.86L186.44,356.82L187.78,356.78L189.11,356.75L190.45,356.72L191.79,356.69L193.12,356.66L194.46,356.64L195.8,356.62L197.14,356.61L198.48,356.59L199.81,356.58L201.15,356.56L202.49,356.55L203.82,356.54L205.16,356.53L206.5,356.53L207.84,356.52L209.18,356.51L210.51,356.51L211.85,356.5L213.19,356.5L214.53,356.49L215.86,356.49L217.2,356.49L218.54,356.48L219.88,356.48L221.21,356.48L222.55,356.48L223.89,356.47L225.23,356.47L226.56,356.47L227.9,356.47" fill="none" stroke="#d81a26" stroke-width="1.45"/>
<path d="M67.4,368.49L68.74,368.49L70.08,368.49L71.41,368.49L72.75,368.49L74.09,368.49L75.42,368.48L76.76,368.48L78.1,368.48L79.44,368.48L80.78,368.48L82.11,368.48L83.45,368.48L84.79,368.48L86.12,368.48L87.46,368.47L88.8,368.47L90.14,368.47L91.47,368.47L92.81,368.47L94.15,368.46L95.49,368.46L96.83,368.46L98.16,368.45L99.5,368.45L100.84,368.44L102.18,368.43L103.51,368.43L104.85,368.42L106.19,368.41L107.53,368.4L108.86,368.39L110.2,368.38L111.54,368.37L112.88,368.35L114.21,368.34L115.55,368.32L116.89,368.3L118.23,368.27L119.56,368.25L120.9,368.22L122.24,368.19L123.58,368.15L124.91,368.11L126.25,368.07L127.59,368.02L128.93,367.97L130.26,367.91L131.6,367.84L132.94,367.77L134.28,367.69L135.61,367.6L136.95,367.5L138.29,367.4L139.62,367.28L140.96,367.16L142.3,367.02L143.64,366.88L144.97,366.72L146.31,366.55L147.65,366.37L148.99,366.18L150.33,365.98L151.66,365.77L153,365.54L154.34,365.31L155.68,365.08L157.01,364.83L158.35,364.58L159.69,364.33L161.03,364.08L162.36,363.83L163.7,363.57L165.04,363.32L166.38,363.08L167.71,362.84L169.05,362.61L170.39,362.39L171.72,362.18L173.06,361.98L174.4,361.79L175.74,361.61L177.07,361.44L178.41,361.28L179.75,361.14L181.09,361L182.43,360.87L183.76,360.76L185.1,360.65L186.44,360.56L187.78,360.47L189.11,360.39L190.45,360.32L191.79,360.25L193.12,360.19L194.46,360.14L195.8,360.09L197.14,360.05L198.48,360.01L199.81,359.97L201.15,359.94L202.49,359.91L203.82,359.88L205.16,359.86L206.5,359.84L207.84,359.82L209.18,359.81L210.51,359.79L211.85,359.78L213.19,359.77L214.53,359.76L215.86,359.75L217.2,359.74L218.54,359.73L219.88,359.72L221.21,359.72L222.55,359.71L223.89,359.71L225.23,359.7L226.56,359.7L227.9,359.7" fill="none" stroke="#d81a26" stroke-width="1.45"/>
<path d="M67.4,363.68L68.74,363.68L70.08,363.68L71.41,363.68L72.75,363.68L74.09,363.68L75.42,363.68L76.76,363.68L78.1,363.68L79.44,363.68L80.78,363.68L82.11,363.68L83.45,363.68L84.79,363.68L86.12,363.68L87.46,363.68L88.8,363.68L90.14,363.68L91.47,363.68L92.81,363.68L94.15,363.68L95.49,363.68L96.83,363.68L98.16,363.68L99.5,363.68L100.84,363.67L102.18,363.67L103.51,363.67L104.85,363.67L106.19,363.67L107.53,363.67L108.86,363.67L110.2,363.67L111.54,363.67L112.88,363.67L114.21,363.67L115.55,363.67L116.89,363.67L118.23,363.66L119.56,363.66L120.9,363.66L122.24,363.66L123.58,363.66L124.91,363.65L126.25,363.65L127.59,363.65L128.93,363.64L130.26,363.64L131.6,363.63L132.94,363.63L134.28,363.62L135.61,363.62L136.95,363.61L138.29,363.6L139.62,363.59L140.96,363.58L142.3,363.57L143.64,363.56L144.97,363.54L146.31,363.52L147.65,363.51L148.99,363.49L150.33,363.46L151.66,363.44L153,363.41L154.34,363.38L155.68,363.34L157.01,363.31L158.35,363.26L159.69,363.22L161.03,363.17L162.36,363.11L163.7,363.05L165.04,362.98L166.38,362.91L167.71,362.83L169.05,362.74L170.39,362.65L171.72,362.55L173.06,362.44L174.4,362.33L175.74,362.21L177.07,362.08L178.41,361.94L179.75,361.8L181.09,361.66L182.43,361.51L183.76,361.35L185.1,361.19L186.44,361.03L187.78,360.87L189.11,360.71L190.45,360.55L191.79,360.39L193.12,360.24L194.46,360.08L195.8,359.94L197.14,359.8L198.48,359.66L199.81,359.53L201.15,359.41L202.49,359.3L203.82,359.19L205.16,359.09L206.5,359L207.84,358.91L209.18,358.83L210.51,358.76L211.85,358.69L213.19,358.63L214.53,358.57L215.86,358.52L217.2,358.48L218.54,358.44L219.88,358.4L221.21,358.36L222.55,358.33L223.89,358.3L225.23,358.28L226.56,358.26L227.9,358.24" fill="none" stroke="#d81a26" stroke-width="1.45"/>
<circle cx="67.4" cy="368.31" r="1.7" fill="#d81a26"/>
<circle cx="94.15" cy="365.74" r="1.7" fill="#d81a26"/>
<circle cx="120.9" cy="373.04" r="1.7" fill="#d81a26"/>
<line x1="147.65" y1="360.01" x2="147.65" y2="374.1" stroke="#d81a26" stroke-width="1.2"/>
<line x1="145.15" y1="360.01" x2="150.15" y2="360.01" stroke="#d81a26" stroke-width="1.3"/>
<line x1="145.15" y1="374.1" x2="150.15" y2="374.1" stroke="#d81a26" stroke-width="1.3"/>
<circle cx="147.65" cy="367.48" r="1.7" fill="#d81a26"/>
<line x1="174.4" y1="354.35" x2="174.4" y2="361.94" stroke="#d81a26" stroke-width="1.2"/>
<line x1="171.9" y1="354.35" x2="176.9" y2="354.35" stroke="#d81a26" stroke-width="1.3"/>
<line x1="171.9" y1="361.94" x2="176.9" y2="361.94" stroke="#d81a26" stroke-width="1.3"/>
<circle cx="174.4" cy="358.14" r="1.7" fill="#d81a26"/>
<line x1="201.15" y1="278.23" x2="201.15" y2="283.19" stroke="#d81a26" stroke-width="1.2"/>
<line x1="198.65" y1="278.23" x2="203.65" y2="278.23" stroke="#d81a26" stroke-width="1.3"/>
<line x1="198.65" y1="283.19" x2="203.65" y2="283.19" stroke="#d81a26" stroke-width="1.3"/>
<circle cx="201.15" cy="280.71" r="1.7" fill="#d81a26"/>
<circle cx="227.9" cy="238.38" r="1.7" fill="#d81a26"/>
<line x1="67.4" y1="363.54" x2="67.4" y2="374.1" stroke="#d81a26" stroke-width="1.2"/>
<line x1="64.9" y1="363.54" x2="69.9" y2="363.54" stroke="#d81a26" stroke-width="1.3"/>
<line x1="64.9" y1="374.1" x2="69.9" y2="374.1" stroke="#d81a26" stroke-width="1.3"/>
<path d="M67.4,368.32 L69.2,370.42 L67.4,372.52 L65.6,370.42 Z" fill="#d81a26"/>
<line x1="94.15" y1="363.63" x2="94.15" y2="369.86" stroke="#d81a26" stroke-width="1.2"/>
<line x1="91.65" y1="363.63" x2="96.65" y2="363.63" stroke="#d81a26" stroke-width="1.3"/>
<line x1="91.65" y1="369.86" x2="96.65" y2="369.86" stroke="#d81a26" stroke-width="1.3"/>
<path d="M94.15,364.65 L95.95,366.75 L94.15,368.85 L92.35,366.75 Z" fill="#d81a26"/>
<line x1="120.9" y1="361.11" x2="120.9" y2="368.27" stroke="#d81a26" stroke-width="1.2"/>
<line x1="118.4" y1="361.11" x2="123.4" y2="361.11" stroke="#d81a26" stroke-width="1.3"/>
<line x1="118.4" y1="368.27" x2="123.4" y2="368.27" stroke="#d81a26" stroke-width="1.3"/>
<path d="M120.9,362.59 L122.7,364.69 L120.9,366.79 L119.1,364.69 Z" fill="#d81a26"/>
<line x1="147.65" y1="356.13" x2="147.65" y2="370.74" stroke="#d81a26" stroke-width="1.2"/>
<line x1="145.15" y1="356.13" x2="150.15" y2="356.13" stroke="#d81a26" stroke-width="1.3"/>
<line x1="145.15" y1="370.74" x2="150.15" y2="370.74" stroke="#d81a26" stroke-width="1.3"/>
<path d="M147.65,361.33 L149.45,363.43 L147.65,365.53 L145.85,363.43 Z" fill="#d81a26"/>
<line x1="174.4" y1="351.34" x2="174.4" y2="362.21" stroke="#d81a26" stroke-width="1.2"/>
<line x1="171.9" y1="351.34" x2="176.9" y2="351.34" stroke="#d81a26" stroke-width="1.3"/>
<line x1="171.9" y1="362.21" x2="176.9" y2="362.21" stroke="#d81a26" stroke-width="1.3"/>
<path d="M174.4,354.68 L176.2,356.78 L174.4,358.88 L172.6,356.78 Z" fill="#d81a26"/>
<line x1="201.15" y1="296.97" x2="201.15" y2="312.34" stroke="#d81a26" stroke-width="1.2"/>
<line x1="198.65" y1="296.97" x2="203.65" y2="296.97" stroke="#d81a26" stroke-width="1.3"/>
<line x1="198.65" y1="312.34" x2="203.65" y2="312.34" stroke="#d81a26" stroke-width="1.3"/>
<path d="M201.15,302.55 L202.95,304.65 L201.15,306.75 L199.35,304.65 Z" fill="#d81a26"/>
<line x1="227.9" y1="246.72" x2="227.9" y2="261.57" stroke="#d81a26" stroke-width="1.2"/>
<line x1="225.4" y1="246.72" x2="230.4" y2="246.72" stroke="#d81a26" stroke-width="1.3"/>
<line x1="225.4" y1="261.57" x2="230.4" y2="261.57" stroke="#d81a26" stroke-width="1.3"/>
<path d="M227.9,252.04 L229.7,254.14 L227.9,256.24 L226.1,254.14 Z" fill="#d81a26"/>
<line x1="67.4" y1="363.06" x2="67.4" y2="369.73" stroke="#d81a26" stroke-width="1.2"/>
<line x1="64.9" y1="363.06" x2="69.9" y2="363.06" stroke="#d81a26" stroke-width="1.3"/>
<line x1="64.9" y1="369.73" x2="69.9" y2="369.73" stroke="#d81a26" stroke-width="1.3"/>
<path d="M65.3,364.9 L69.5,364.9 L67.4,368.4 Z" fill="#d81a26"/>
<path d="M92.05,367.27 L96.25,367.27 L94.15,370.77 Z" fill="#d81a26"/>
<line x1="120.9" y1="363.04" x2="120.9" y2="374.1" stroke="#d81a26" stroke-width="1.2"/>
<line x1="118.4" y1="363.04" x2="123.4" y2="363.04" stroke="#d81a26" stroke-width="1.3"/>
<line x1="118.4" y1="374.1" x2="123.4" y2="374.1" stroke="#d81a26" stroke-width="1.3"/>
<path d="M118.8,367.75 L123,367.75 L120.9,371.25 Z" fill="#d81a26"/>
<line x1="147.65" y1="359.51" x2="147.65" y2="373.52" stroke="#d81a26" stroke-width="1.2"/>
<line x1="145.15" y1="359.51" x2="150.15" y2="359.51" stroke="#d81a26" stroke-width="1.3"/>
<line x1="145.15" y1="373.52" x2="150.15" y2="373.52" stroke="#d81a26" stroke-width="1.3"/>
<path d="M145.55,365.01 L149.75,365.01 L147.65,368.51 Z" fill="#d81a26"/>
<line x1="174.4" y1="356.14" x2="174.4" y2="366.35" stroke="#d81a26" stroke-width="1.2"/>
<line x1="171.9" y1="356.14" x2="176.9" y2="356.14" stroke="#d81a26" stroke-width="1.3"/>
<line x1="171.9" y1="366.35" x2="176.9" y2="366.35" stroke="#d81a26" stroke-width="1.3"/>
<path d="M172.3,359.74 L176.5,359.74 L174.4,363.24 Z" fill="#d81a26"/>
<line x1="201.15" y1="307.09" x2="201.15" y2="322.85" stroke="#d81a26" stroke-width="1.2"/>
<line x1="198.65" y1="307.09" x2="203.65" y2="307.09" stroke="#d81a26" stroke-width="1.3"/>
<line x1="198.65" y1="322.85" x2="203.65" y2="322.85" stroke="#d81a26" stroke-width="1.3"/>
<path d="M199.05,313.47 L203.25,313.47 L201.15,316.97 Z" fill="#d81a26"/>
<line x1="227.9" y1="260.03" x2="227.9" y2="274.32" stroke="#d81a26" stroke-width="1.2"/>
<line x1="225.4" y1="260.03" x2="230.4" y2="260.03" stroke="#d81a26" stroke-width="1.3"/>
<line x1="225.4" y1="274.32" x2="230.4" y2="274.32" stroke="#d81a26" stroke-width="1.3"/>
<path d="M225.8,265.68 L230,265.68 L227.9,269.18 Z" fill="#d81a26"/>
<circle cx="67.4" cy="359.77" r="1.7" fill="#d81a26"/>
<line x1="94.15" y1="363.34" x2="94.15" y2="368.68" stroke="#d81a26" stroke-width="1.2"/>
<line x1="91.65" y1="363.34" x2="96.65" y2="363.34" stroke="#d81a26" stroke-width="1.3"/>
<line x1="91.65" y1="368.68" x2="96.65" y2="368.68" stroke="#d81a26" stroke-width="1.3"/>
<circle cx="94.15" cy="366.01" r="1.7" fill="#d81a26"/>
<circle cx="120.9" cy="358.41" r="1.7" fill="#d81a26"/>
<line x1="147.65" y1="350.73" x2="147.65" y2="366.12" stroke="#d81a26" stroke-width="1.2"/>
<line x1="145.15" y1="350.73" x2="150.15" y2="350.73" stroke="#d81a26" stroke-width="1.3"/>
<line x1="145.15" y1="366.12" x2="150.15" y2="366.12" stroke="#d81a26" stroke-width="1.3"/>
<circle cx="147.65" cy="358.43" r="1.7" fill="#d81a26"/>
<circle cx="174.4" cy="360.24" r="1.7" fill="#d81a26"/>
<circle cx="201.15" cy="339.95" r="1.7" fill="#d81a26"/>
<circle cx="227.9" cy="311.66" r="1.7" fill="#d81a26"/>
<path d="M67.4,371.27 L69.2,373.37 L67.4,375.47 L65.6,373.37 Z" fill="#d81a26"/>
<path d="M94.15,364.64 L95.95,366.74 L94.15,368.84 L92.35,366.74 Z" fill="#d81a26"/>
<line x1="120.9" y1="365.56" x2="120.9" y2="373.88" stroke="#d81a26" stroke-width="1.2"/>
<line x1="118.4" y1="365.56" x2="123.4" y2="365.56" stroke="#d81a26" stroke-width="1.3"/>
<line x1="118.4" y1="373.88" x2="123.4" y2="373.88" stroke="#d81a26" stroke-width="1.3"/>
<path d="M120.9,367.62 L122.7,369.72 L120.9,371.82 L119.1,369.72 Z" fill="#d81a26"/>
<line x1="147.65" y1="369.63" x2="147.65" y2="374.1" stroke="#d81a26" stroke-width="1.2"/>
<line x1="145.15" y1="369.63" x2="150.15" y2="369.63" stroke="#d81a26" stroke-width="1.3"/>
<line x1="145.15" y1="374.1" x2="150.15" y2="374.1" stroke="#d81a26" stroke-width="1.3"/>
<path d="M147.65,370.37 L149.45,372.47 L147.65,374.57 L145.85,372.47 Z" fill="#d81a26"/>
<line x1="174.4" y1="357.48" x2="174.4" y2="373.48" stroke="#d81a26" stroke-width="1.2"/>
<line x1="171.9" y1="357.48" x2="176.9" y2="357.48" stroke="#d81a26" stroke-width="1.3"/>
<line x1="171.9" y1="373.48" x2="176.9" y2="373.48" stroke="#d81a26" stroke-width="1.3"/>
<path d="M174.4,363.38 L176.2,365.48 L174.4,367.58 L172.6,365.48 Z" fill="#d81a26"/>
<line x1="201.15" y1="339.7" x2="201.15" y2="355.59" stroke="#d81a26" stroke-width="1.2"/>
<line x1="198.65" y1="339.7" x2="203.65" y2="339.7" stroke="#d81a26" stroke-width="1.3"/>
<line x1="198.65" y1="355.59" x2="203.65" y2="355.59" stroke="#d81a26" stroke-width="1.3"/>
<path d="M201.15,345.55 L202.95,347.65 L201.15,349.75 L199.35,347.65 Z" fill="#d81a26"/>
<line x1="227.9" y1="318.07" x2="227.9" y2="325.55" stroke="#d81a26" stroke-width="1.2"/>
<line x1="225.4" y1="318.07" x2="230.4" y2="318.07" stroke="#d81a26" stroke-width="1.3"/>
<line x1="225.4" y1="325.55" x2="230.4" y2="325.55" stroke="#d81a26" stroke-width="1.3"/>
<path d="M227.9,319.71 L229.7,321.81 L227.9,323.91 L226.1,321.81 Z" fill="#d81a26"/>
<path d="M65.3,360.36 L69.5,360.36 L67.4,363.86 Z" fill="#d81a26"/>
<line x1="94.15" y1="360.49" x2="94.15" y2="374.1" stroke="#d81a26" stroke-width="1.2"/>
<line x1="91.65" y1="360.49" x2="96.65" y2="360.49" stroke="#d81a26" stroke-width="1.3"/>
<line x1="91.65" y1="374.1" x2="96.65" y2="374.1" stroke="#d81a26" stroke-width="1.3"/>
<path d="M92.05,366.54 L96.25,366.54 L94.15,370.04 Z" fill="#d81a26"/>
<line x1="120.9" y1="357.39" x2="120.9" y2="371.62" stroke="#d81a26" stroke-width="1.2"/>
<line x1="118.4" y1="357.39" x2="123.4" y2="357.39" stroke="#d81a26" stroke-width="1.3"/>
<line x1="118.4" y1="371.62" x2="123.4" y2="371.62" stroke="#d81a26" stroke-width="1.3"/>
<path d="M118.8,363 L123,363 L120.9,366.5 Z" fill="#d81a26"/>
<line x1="147.65" y1="354.61" x2="147.65" y2="370.09" stroke="#d81a26" stroke-width="1.2"/>
<line x1="145.15" y1="354.61" x2="150.15" y2="354.61" stroke="#d81a26" stroke-width="1.3"/>
<line x1="145.15" y1="370.09" x2="150.15" y2="370.09" stroke="#d81a26" stroke-width="1.3"/>
<path d="M145.55,360.85 L149.75,360.85 L147.65,364.35 Z" fill="#d81a26"/>
<line x1="174.4" y1="356.69" x2="174.4" y2="362.7" stroke="#d81a26" stroke-width="1.2"/>
<line x1="171.9" y1="356.69" x2="176.9" y2="356.69" stroke="#d81a26" stroke-width="1.3"/>
<line x1="171.9" y1="362.7" x2="176.9" y2="362.7" stroke="#d81a26" stroke-width="1.3"/>
<path d="M172.3,358.19 L176.5,358.19 L174.4,361.69 Z" fill="#d81a26"/>
<line x1="201.15" y1="346.51" x2="201.15" y2="360.81" stroke="#d81a26" stroke-width="1.2"/>
<line x1="198.65" y1="346.51" x2="203.65" y2="346.51" stroke="#d81a26" stroke-width="1.3"/>
<line x1="198.65" y1="360.81" x2="203.65" y2="360.81" stroke="#d81a26" stroke-width="1.3"/>
<path d="M199.05,352.16 L203.25,352.16 L201.15,355.66 Z" fill="#d81a26"/>
<path d="M225.8,338.57 L230,338.57 L227.9,342.07 Z" fill="#d81a26"/>
<circle cx="67.4" cy="357.45" r="1.7" fill="#d81a26"/>
<line x1="94.15" y1="354.33" x2="94.15" y2="364.52" stroke="#d81a26" stroke-width="1.2"/>
<line x1="91.65" y1="354.33" x2="96.65" y2="354.33" stroke="#d81a26" stroke-width="1.3"/>
<line x1="91.65" y1="364.52" x2="96.65" y2="364.52" stroke="#d81a26" stroke-width="1.3"/>
<circle cx="94.15" cy="359.43" r="1.7" fill="#d81a26"/>
<line x1="120.9" y1="358.78" x2="120.9" y2="365.24" stroke="#d81a26" stroke-width="1.2"/>
<line x1="118.4" y1="358.78" x2="123.4" y2="358.78" stroke="#d81a26" stroke-width="1.3"/>
<line x1="118.4" y1="365.24" x2="123.4" y2="365.24" stroke="#d81a26" stroke-width="1.3"/>
<circle cx="120.9" cy="362.01" r="1.7" fill="#d81a26"/>
<line x1="147.65" y1="349.08" x2="147.65" y2="364.67" stroke="#d81a26" stroke-width="1.2"/>
<line x1="145.15" y1="349.08" x2="150.15" y2="349.08" stroke="#d81a26" stroke-width="1.3"/>
<line x1="145.15" y1="364.67" x2="150.15" y2="364.67" stroke="#d81a26" stroke-width="1.3"/>
<circle cx="147.65" cy="356.88" r="1.7" fill="#d81a26"/>
<line x1="174.4" y1="352.96" x2="174.4" y2="361.57" stroke="#d81a26" stroke-width="1.2"/>
<line x1="171.9" y1="352.96" x2="176.9" y2="352.96" stroke="#d81a26" stroke-width="1.3"/>
<line x1="171.9" y1="361.57" x2="176.9" y2="361.57" stroke="#d81a26" stroke-width="1.3"/>
<circle cx="174.4" cy="357.27" r="1.7" fill="#d81a26"/>
<circle cx="201.15" cy="355.55" r="1.7" fill="#d81a26"/>
<circle cx="227.9" cy="354.4" r="1.7" fill="#d81a26"/>
<path d="M67.4,367.24 L69.2,369.34 L67.4,371.44 L65.6,369.34 Z" fill="#d81a26"/>
<line x1="94.15" y1="365.63" x2="94.15" y2="374.1" stroke="#d81a26" stroke-width="1.2"/>
<line x1="91.65" y1="365.63" x2="96.65" y2="365.63" stroke="#d81a26" stroke-width="1.3"/>
<line x1="91.65" y1="374.1" x2="96.65" y2="374.1" stroke="#d81a26" stroke-width="1.3"/>
<path d="M94.15,369.89 L95.95,371.99 L94.15,374.09 L92.35,371.99 Z" fill="#d81a26"/>
<path d="M120.9,368.91 L122.7,371.01 L120.9,373.11 L119.1,371.01 Z" fill="#d81a26"/>
<line x1="147.65" y1="364.83" x2="147.65" y2="374.1" stroke="#d81a26" stroke-width="1.2"/>
<line x1="145.15" y1="364.83" x2="150.15" y2="364.83" stroke="#d81a26" stroke-width="1.3"/>
<line x1="145.15" y1="374.1" x2="150.15" y2="374.1" stroke="#d81a26" stroke-width="1.3"/>
<path d="M147.65,370.45 L149.45,372.55 L147.65,374.65 L145.85,372.55 Z" fill="#d81a26"/>
<line x1="174.4" y1="367.72" x2="174.4" y2="372.66" stroke="#d81a26" stroke-width="1.2"/>
<line x1="171.9" y1="367.72" x2="176.9" y2="367.72" stroke="#d81a26" stroke-width="1.3"/>
<line x1="171.9" y1="372.66" x2="176.9" y2="372.66" stroke="#d81a26" stroke-width="1.3"/>
<path d="M174.4,368.09 L176.2,370.19 L174.4,372.29 L172.6,370.19 Z" fill="#d81a26"/>
<line x1="201.15" y1="364.8" x2="201.15" y2="374.1" stroke="#d81a26" stroke-width="1.2"/>
<line x1="198.65" y1="364.8" x2="203.65" y2="364.8" stroke="#d81a26" stroke-width="1.3"/>
<line x1="198.65" y1="374.1" x2="203.65" y2="374.1" stroke="#d81a26" stroke-width="1.3"/>
<path d="M201.15,368.88 L202.95,370.98 L201.15,373.08 L199.35,370.98 Z" fill="#d81a26"/>
<path d="M227.9,334.98 L229.7,337.08 L227.9,339.18 L226.1,337.08 Z" fill="#d81a26"/>
<path d="M65.3,366.6 L69.5,366.6 L67.4,370.1 Z" fill="#d81a26"/>
<path d="M92.05,362.65 L96.25,362.65 L94.15,366.15 Z" fill="#d81a26"/>
<path d="M118.8,361.47 L123,361.47 L120.9,364.97 Z" fill="#d81a26"/>
<line x1="147.65" y1="352.7" x2="147.65" y2="363.33" stroke="#d81a26" stroke-width="1.2"/>
<line x1="145.15" y1="352.7" x2="150.15" y2="352.7" stroke="#d81a26" stroke-width="1.3"/>
<line x1="145.15" y1="363.33" x2="150.15" y2="363.33" stroke="#d81a26" stroke-width="1.3"/>
<path d="M145.55,356.51 L149.75,356.51 L147.65,360.01 Z" fill="#d81a26"/>
<path d="M172.3,358.59 L176.5,358.59 L174.4,362.09 Z" fill="#d81a26"/>
<line x1="201.15" y1="350.46" x2="201.15" y2="363.03" stroke="#d81a26" stroke-width="1.2"/>
<line x1="198.65" y1="350.46" x2="203.65" y2="350.46" stroke="#d81a26" stroke-width="1.3"/>
<line x1="198.65" y1="363.03" x2="203.65" y2="363.03" stroke="#d81a26" stroke-width="1.3"/>
<path d="M199.05,355.25 L203.25,355.25 L201.15,358.75 Z" fill="#d81a26"/>
<path d="M225.8,353.12 L230,353.12 L227.9,356.62 Z" fill="#d81a26"/>
<circle cx="67.4" cy="367.84" r="1.7" fill="#d81a26"/>
<circle cx="94.15" cy="367.47" r="1.7" fill="#d81a26"/>
<line x1="120.9" y1="363.89" x2="120.9" y2="369.01" stroke="#d81a26" stroke-width="1.2"/>
<line x1="118.4" y1="363.89" x2="123.4" y2="363.89" stroke="#d81a26" stroke-width="1.3"/>
<line x1="118.4" y1="369.01" x2="123.4" y2="369.01" stroke="#d81a26" stroke-width="1.3"/>
<circle cx="120.9" cy="366.45" r="1.7" fill="#d81a26"/>
<line x1="147.65" y1="360.79" x2="147.65" y2="372.9" stroke="#d81a26" stroke-width="1.2"/>
<line x1="145.15" y1="360.79" x2="150.15" y2="360.79" stroke="#d81a26" stroke-width="1.3"/>
<line x1="145.15" y1="372.9" x2="150.15" y2="372.9" stroke="#d81a26" stroke-width="1.3"/>
<circle cx="147.65" cy="366.84" r="1.7" fill="#d81a26"/>
<line x1="174.4" y1="354.35" x2="174.4" y2="366.24" stroke="#d81a26" stroke-width="1.2"/>
<line x1="171.9" y1="354.35" x2="176.9" y2="354.35" stroke="#d81a26" stroke-width="1.3"/>
<line x1="171.9" y1="366.24" x2="176.9" y2="366.24" stroke="#d81a26" stroke-width="1.3"/>
<circle cx="174.4" cy="360.3" r="1.7" fill="#d81a26"/>
<line x1="201.15" y1="356.49" x2="201.15" y2="363.84" stroke="#d81a26" stroke-width="1.2"/>
<line x1="198.65" y1="356.49" x2="203.65" y2="356.49" stroke="#d81a26" stroke-width="1.3"/>
<line x1="198.65" y1="363.84" x2="203.65" y2="363.84" stroke="#d81a26" stroke-width="1.3"/>
<circle cx="201.15" cy="360.17" r="1.7" fill="#d81a26"/>
<line x1="227.9" y1="358.45" x2="227.9" y2="366.82" stroke="#d81a26" stroke-width="1.2"/>
<line x1="225.4" y1="358.45" x2="230.4" y2="358.45" stroke="#d81a26" stroke-width="1.3"/>
<line x1="225.4" y1="366.82" x2="230.4" y2="366.82" stroke="#d81a26" stroke-width="1.3"/>
<circle cx="227.9" cy="362.63" r="1.7" fill="#d81a26"/>
<path d="M67.4,364.04 L69.2,366.14 L67.4,368.24 L65.6,366.14 Z" fill="#d81a26"/>
<path d="M94.15,362.54 L95.95,364.64 L94.15,366.74 L92.35,364.64 Z" fill="#d81a26"/>
<line x1="120.9" y1="358.29" x2="120.9" y2="373.24" stroke="#d81a26" stroke-width="1.2"/>
<line x1="118.4" y1="358.29" x2="123.4" y2="358.29" stroke="#d81a26" stroke-width="1.3"/>
<line x1="118.4" y1="373.24" x2="123.4" y2="373.24" stroke="#d81a26" stroke-width="1.3"/>
<path d="M120.9,363.66 L122.7,365.76 L120.9,367.86 L119.1,365.76 Z" fill="#d81a26"/>
<line x1="147.65" y1="360.3" x2="147.65" y2="368.23" stroke="#d81a26" stroke-width="1.2"/>
<line x1="145.15" y1="360.3" x2="150.15" y2="360.3" stroke="#d81a26" stroke-width="1.3"/>
<line x1="145.15" y1="368.23" x2="150.15" y2="368.23" stroke="#d81a26" stroke-width="1.3"/>
<path d="M147.65,362.16 L149.45,364.26 L147.65,366.36 L145.85,364.26 Z" fill="#d81a26"/>
<line x1="174.4" y1="358.34" x2="174.4" y2="372.49" stroke="#d81a26" stroke-width="1.2"/>
<line x1="171.9" y1="358.34" x2="176.9" y2="358.34" stroke="#d81a26" stroke-width="1.3"/>
<line x1="171.9" y1="372.49" x2="176.9" y2="372.49" stroke="#d81a26" stroke-width="1.3"/>
<path d="M174.4,363.32 L176.2,365.42 L174.4,367.52 L172.6,365.42 Z" fill="#d81a26"/>
<line x1="201.15" y1="357.28" x2="201.15" y2="368.98" stroke="#d81a26" stroke-width="1.2"/>
<line x1="198.65" y1="357.28" x2="203.65" y2="357.28" stroke="#d81a26" stroke-width="1.3"/>
<line x1="198.65" y1="368.98" x2="203.65" y2="368.98" stroke="#d81a26" stroke-width="1.3"/>
<path d="M201.15,361.03 L202.95,363.13 L201.15,365.23 L199.35,363.13 Z" fill="#d81a26"/>
<line x1="227.9" y1="353.56" x2="227.9" y2="362.18" stroke="#d81a26" stroke-width="1.2"/>
<line x1="225.4" y1="353.56" x2="230.4" y2="353.56" stroke="#d81a26" stroke-width="1.3"/>
<line x1="225.4" y1="362.18" x2="230.4" y2="362.18" stroke="#d81a26" stroke-width="1.3"/>
<path d="M227.9,355.77 L229.7,357.87 L227.9,359.97 L226.1,357.87 Z" fill="#d81a26"/>
<line x1="120.9" y1="340.42" x2="120.9" y2="366.08" stroke="#d81a26" stroke-width="1.2"/>
<line x1="118.4" y1="340.42" x2="123.4" y2="340.42" stroke="#d81a26" stroke-width="1.3"/>
<line x1="118.4" y1="366.08" x2="123.4" y2="366.08" stroke="#d81a26" stroke-width="1.3"/>
<path d="M118.8,350.15 L123,350.15 L120.9,353.65 Z" fill="#d81a26"/>
<line x1="201.15" y1="290.7" x2="201.15" y2="319.57" stroke="#d81a26" stroke-width="1.2"/>
<line x1="198.65" y1="290.7" x2="203.65" y2="290.7" stroke="#d81a26" stroke-width="1.3"/>
<line x1="198.65" y1="319.57" x2="203.65" y2="319.57" stroke="#d81a26" stroke-width="1.3"/>
<path d="M199.05,298.82 L203.25,298.82 L201.15,302.32 Z" fill="#d81a26"/>
<line x1="201.15" y1="257.81" x2="201.15" y2="288.29" stroke="#d81a26" stroke-width="1.2"/>
<line x1="198.65" y1="257.81" x2="203.65" y2="257.81" stroke="#d81a26" stroke-width="1.3"/>
<line x1="198.65" y1="288.29" x2="203.65" y2="288.29" stroke="#d81a26" stroke-width="1.3"/>
<path d="M199.05,268.34 L203.25,268.34 L201.15,271.84 Z" fill="#d81a26"/>
<line x1="227.9" y1="306.74" x2="227.9" y2="329.19" stroke="#d81a26" stroke-width="1.2"/>
<line x1="225.4" y1="306.74" x2="230.4" y2="306.74" stroke="#d81a26" stroke-width="1.3"/>
<line x1="225.4" y1="329.19" x2="230.4" y2="329.19" stroke="#d81a26" stroke-width="1.3"/>
<line x1="227.9" y1="325.98" x2="227.9" y2="358.06" stroke="#d81a26" stroke-width="1.2"/>
<line x1="225.4" y1="325.98" x2="230.4" y2="325.98" stroke="#d81a26" stroke-width="1.3"/>
<line x1="225.4" y1="358.06" x2="230.4" y2="358.06" stroke="#d81a26" stroke-width="1.3"/>
<path d="M225.8,340.52 L230,340.52 L227.9,344.02 Z" fill="#d81a26"/>
<line x1="227.9" y1="247.39" x2="227.9" y2="269.84" stroke="#d81a26" stroke-width="1.2"/>
<line x1="225.4" y1="247.39" x2="230.4" y2="247.39" stroke="#d81a26" stroke-width="1.3"/>
<line x1="225.4" y1="269.84" x2="230.4" y2="269.84" stroke="#d81a26" stroke-width="1.3"/>
<line x1="227.9" y1="234.56" x2="227.9" y2="253.8" stroke="#d81a26" stroke-width="1.2"/>
<line x1="225.4" y1="234.56" x2="230.4" y2="234.56" stroke="#d81a26" stroke-width="1.3"/>
<line x1="225.4" y1="253.8" x2="230.4" y2="253.8" stroke="#d81a26" stroke-width="1.3"/>
<path d="M225.8,245.89 L230,245.89 L227.9,249.39 Z" fill="#d81a26"/>
<line x1="174.4" y1="350.04" x2="174.4" y2="366.08" stroke="#d81a26" stroke-width="1.2"/>
<line x1="171.9" y1="350.04" x2="176.9" y2="350.04" stroke="#d81a26" stroke-width="1.3"/>
<line x1="171.9" y1="366.08" x2="176.9" y2="366.08" stroke="#d81a26" stroke-width="1.3"/>
<line x1="94.15" y1="354.05" x2="94.15" y2="365.28" stroke="#d81a26" stroke-width="1.2"/>
<line x1="91.65" y1="354.05" x2="96.65" y2="354.05" stroke="#d81a26" stroke-width="1.3"/>
<line x1="91.65" y1="365.28" x2="96.65" y2="365.28" stroke="#d81a26" stroke-width="1.3"/>
<path d="M92.05,353.36 L96.25,353.36 L94.15,356.86 Z" fill="#d81a26"/>
<line x1="307.1" y1="257.7" x2="307.1" y2="372.2" stroke="#111" stroke-width="1"/>
<line x1="306.6" y1="371.7" x2="474.4" y2="371.7" stroke="#111" stroke-width="1.1"/>
<line x1="303.6" y1="371.7" x2="307.1" y2="371.7" stroke="#111" stroke-width="0.9"/>
<text x="301.4" y="374.6" font-size="8.5" text-anchor="end" fill="#111" textLength="4.34" lengthAdjust="spacingAndGlyphs">0</text>
<line x1="303.6" y1="343.63" x2="307.1" y2="343.63" stroke="#111" stroke-width="0.9"/>
<text x="301.4" y="346.53" font-size="8.5" text-anchor="end" fill="#111" textLength="8.67" lengthAdjust="spacingAndGlyphs">25</text>
<line x1="303.6" y1="315.56" x2="307.1" y2="315.56" stroke="#111" stroke-width="0.9"/>
<text x="301.4" y="318.46" font-size="8.5" text-anchor="end" fill="#111" textLength="8.67" lengthAdjust="spacingAndGlyphs">50</text>
<line x1="303.6" y1="287.49" x2="307.1" y2="287.49" stroke="#111" stroke-width="0.9"/>
<text x="301.4" y="290.39" font-size="8.5" text-anchor="end" fill="#111" textLength="8.67" lengthAdjust="spacingAndGlyphs">75</text>
<line x1="303.6" y1="259.42" x2="307.1" y2="259.42" stroke="#111" stroke-width="0.9"/>
<text x="301.4" y="262.32" font-size="8.5" text-anchor="end" fill="#111" textLength="13.01" lengthAdjust="spacingAndGlyphs">100</text>
<text x="0" y="0" font-size="10.2" text-anchor="middle" fill="#111" textLength="40.9" lengthAdjust="spacingAndGlyphs" transform="translate(282.2,316.2) rotate(-90)">% Positive</text>
<rect x="312.3" y="340.26" width="18.7" height="25.82" fill="none" stroke="#111" stroke-width="0.9"/>
<line x1="312.3" y1="352.61" x2="331" y2="352.61" stroke="#111" stroke-width="1.5"/>
<rect x="340.2" y="295.01" width="18.3" height="40.76" fill="none" stroke="#111" stroke-width="0.9"/>
<line x1="340.2" y1="314.89" x2="358.5" y2="314.89" stroke="#111" stroke-width="1.5"/>
<rect x="367.7" y="357.66" width="18.8" height="10.67" fill="none" stroke="#111" stroke-width="0.9"/>
<line x1="367.7" y1="362.16" x2="386.5" y2="362.16" stroke="#111" stroke-width="1.5"/>
<rect x="395.75" y="352.05" width="18.75" height="12.35" fill="none" stroke="#111" stroke-width="0.9"/>
<line x1="395.75" y1="352.72" x2="414.5" y2="352.72" stroke="#111" stroke-width="1.5"/>
<rect x="423.5" y="364.06" width="19" height="4.27" fill="none" stroke="#111" stroke-width="0.9"/>
<line x1="423.5" y1="366.09" x2="442.5" y2="366.09" stroke="#111" stroke-width="1.5"/>
<rect x="451.3" y="359.35" width="18.9" height="6.18" fill="none" stroke="#111" stroke-width="0.9"/>
<line x1="451.3" y1="361.03" x2="470.2" y2="361.03" stroke="#111" stroke-width="1.5"/>
<circle cx="314.6" cy="365.08" r="2.5" fill="#000"/>
<circle cx="328.3" cy="366.42" r="2.5" fill="#000"/>
<circle cx="321.5" cy="371.14" r="2.5" fill="#000"/>
<circle cx="324.8" cy="348.12" r="2.5" fill="#000"/>
<circle cx="318" cy="340.26" r="2.5" fill="#000"/>
<circle cx="318" cy="343.63" r="2.5" fill="#000"/>
<circle cx="324.8" cy="334.65" r="2.5" fill="#000"/>
<circle cx="349" cy="287.49" r="2.5" fill="#000"/>
<circle cx="352.7" cy="294.45" r="2.5" fill="#000"/>
<circle cx="346" cy="298.83" r="2.5" fill="#000"/>
<circle cx="349.2" cy="306.91" r="2.5" fill="#000"/>
<circle cx="349.2" cy="321.51" r="2.5" fill="#000"/>
<circle cx="349.4" cy="335.77" r="2.5" fill="#000"/>
<circle cx="349.2" cy="359.91" r="2.5" fill="#000"/>
<path d="M377.3,346.74 L379.8,351.14 L374.8,351.14 Z" fill="#000"/>
<path d="M373.8,356.29 L376.3,360.69 L371.3,360.69 Z" fill="#000"/>
<path d="M380.2,356.29 L382.7,360.69 L377.7,360.69 Z" fill="#000"/>
<path d="M377.3,361.9 L379.8,366.3 L374.8,366.3 Z" fill="#000"/>
<path d="M370,363.59 L372.5,367.99 L367.5,367.99 Z" fill="#000"/>
<path d="M373.8,366.95 L376.3,371.35 L371.3,371.35 Z" fill="#000"/>
<path d="M380.2,366.95 L382.7,371.35 L377.7,371.35 Z" fill="#000"/>
<path d="M404.8,304.08 L407.3,308.48 L402.3,308.48 Z" fill="#000"/>
<path d="M411.7,348.65 L414.2,353.05 L409.2,353.05 Z" fill="#000"/>
<path d="M398.3,353.93 L400.8,358.33 L395.8,358.33 Z" fill="#000"/>
<path d="M405,354.27 L407.5,358.67 L402.5,358.67 Z" fill="#000"/>
<path d="M398.2,361.56 L400.7,365.96 L395.7,365.96 Z" fill="#000"/>
<path d="M411.7,362.58 L414.2,366.98 L409.2,366.98 Z" fill="#000"/>
<path d="M405,367.63 L407.5,372.03 L402.5,372.03 Z" fill="#000"/>
<path d="M432.8,358.46 L435.6,361.26 L432.8,364.06 L430,361.26 Z" fill="#000"/>
<path d="M439.9,361.49 L442.7,364.29 L439.9,367.09 L437.1,364.29 Z" fill="#000"/>
<path d="M426.8,362.16 L429.6,364.96 L426.8,367.76 L424,364.96 Z" fill="#000"/>
<path d="M433.3,363.51 L436.1,366.31 L433.3,369.11 L430.5,366.31 Z" fill="#000"/>
<path d="M429.2,364.97 L432,367.77 L429.2,370.57 L426.4,367.77 Z" fill="#000"/>
<path d="M431.7,366.65 L434.5,369.45 L431.7,372.25 L428.9,369.45 Z" fill="#000"/>
<path d="M437.5,364.41 L440.3,367.21 L437.5,370.01 L434.7,367.21 Z" fill="#000"/>
<path d="M424.8,363.85 L427.6,366.65 L424.8,369.45 L422,366.65 Z" fill="#000"/>
<path d="M460.3,340.16 L463.1,342.96 L460.3,345.76 L457.5,342.96 Z" fill="#000"/>
<path d="M454.6,355.99 L457.4,358.79 L454.6,361.59 L451.8,358.79 Z" fill="#000"/>
<path d="M458.5,357.45 L461.3,360.25 L458.5,363.05 L455.7,360.25 Z" fill="#000"/>
<path d="M462.5,357.45 L465.3,360.25 L462.5,363.05 L459.7,360.25 Z" fill="#000"/>
<path d="M466.5,357.45 L469.3,360.25 L466.5,363.05 L463.7,360.25 Z" fill="#000"/>
<path d="M464.4,362.95 L467.2,365.75 L464.4,368.55 L461.6,365.75 Z" fill="#000"/>
<path d="M457,367.44 L459.8,370.24 L457,373.04 L454.2,370.24 Z" fill="#000"/>
<line x1="321.65" y1="371.7" x2="321.65" y2="374.6" stroke="#111" stroke-width="0.9"/>
<text x="321.65" y="384.6" font-size="7.8" text-anchor="middle" fill="#111">-</text>
<line x1="349.35" y1="371.7" x2="349.35" y2="374.6" stroke="#111" stroke-width="0.9"/>
<text x="349.35" y="384.6" font-size="7.8" text-anchor="middle" fill="#111">+</text>
<line x1="377.1" y1="371.7" x2="377.1" y2="374.6" stroke="#111" stroke-width="0.9"/>
<text x="377.1" y="384.6" font-size="7.8" text-anchor="middle" fill="#111">-</text>
<line x1="405.12" y1="371.7" x2="405.12" y2="374.6" stroke="#111" stroke-width="0.9"/>
<text x="405.12" y="384.6" font-size="7.8" text-anchor="middle" fill="#111">+</text>
<line x1="433" y1="371.7" x2="433" y2="374.6" stroke="#111" stroke-width="0.9"/>
<text x="433" y="384.6" font-size="7.8" text-anchor="middle" fill="#111">-</text>
<line x1="460.75" y1="371.7" x2="460.75" y2="374.6" stroke="#111" stroke-width="0.9"/>
<text x="460.75" y="384.6" font-size="7.8" text-anchor="middle" fill="#111">+</text>
<line x1="317.1" y1="389.8" x2="353.7" y2="389.8" stroke="#111" stroke-width="1.3"/>
<text x="335.4" y="400.3" font-size="8.6" text-anchor="middle" fill="#111">US</text>
<line x1="373" y1="389.8" x2="409" y2="389.8" stroke="#111" stroke-width="1.3"/>
<text x="391" y="400.3" font-size="8.6" text-anchor="middle" fill="#111">2S</text>
<line x1="428.3" y1="389.8" x2="465.4" y2="389.8" stroke="#111" stroke-width="1.3"/>
<text x="446.85" y="400.3" font-size="8.6" text-anchor="middle" fill="#111">IL4</text>
<text x="294.3" y="388.3" font-size="8.1" text-anchor="middle" fill="#111">venetoclax</text>
<text x="294.3" y="397.9" font-size="8.1" text-anchor="middle" fill="#111">(10 nM)</text>
<path d="M28.3,443 L28.3,486 Q28.3,487.5 29.5,488.8 L35.6,495.2 Q37.7,497.3 39.8,495.2 L45.8,488.8 Q47,487.5 47,486 L47,443" fill="#fff" stroke="#161210" stroke-width="2.4" stroke-linejoin="round"/>
<ellipse cx="37.65" cy="442.9" rx="9.3" ry="5.4" fill="#fff" stroke="#161210" stroke-width="2.2"/>
<circle cx="31.25" cy="471.9" r="1.9" fill="#f6e8df" stroke="#2e1c12" stroke-width="1.15"/>
<circle cx="39.9" cy="473.4" r="1.9" fill="#f6e8df" stroke="#2e1c12" stroke-width="1.15"/>
<circle cx="43.1" cy="471.9" r="1.9" fill="#f6e8df" stroke="#2e1c12" stroke-width="1.15"/>
<circle cx="31.5" cy="476.2" r="1.9" fill="#f6e8df" stroke="#2e1c12" stroke-width="1.15"/>
<circle cx="35.3" cy="475.8" r="1.9" fill="#f6e8df" stroke="#2e1c12" stroke-width="1.15"/>
<circle cx="43.3" cy="476.6" r="1.9" fill="#f6e8df" stroke="#2e1c12" stroke-width="1.15"/>
<circle cx="32.5" cy="480.8" r="1.9" fill="#f6e8df" stroke="#2e1c12" stroke-width="1.15"/>
<circle cx="39.6" cy="479.8" r="1.9" fill="#f6e8df" stroke="#2e1c12" stroke-width="1.15"/>
<circle cx="35.65" cy="484.7" r="1.9" fill="#f6e8df" stroke="#2e1c12" stroke-width="1.15"/>
<circle cx="42.05" cy="483.3" r="1.9" fill="#f6e8df" stroke="#2e1c12" stroke-width="1.15"/>
<circle cx="31.75" cy="485.4" r="1.9" fill="#f6e8df" stroke="#2e1c12" stroke-width="1.15"/>
<circle cx="41.3" cy="487.6" r="1.9" fill="#f6e8df" stroke="#2e1c12" stroke-width="1.15"/>
<circle cx="34.9" cy="489.3" r="1.9" fill="#f6e8df" stroke="#2e1c12" stroke-width="1.15"/>
<circle cx="38.1" cy="492.0" r="1.9" fill="#f6e8df" stroke="#2e1c12" stroke-width="1.15"/>
<circle cx="37.4" cy="477.5" r="1.9" fill="#f6e8df" stroke="#2e1c12" stroke-width="1.15"/>
<circle cx="36.2" cy="471.6" r="1.9" fill="#f6e8df" stroke="#2e1c12" stroke-width="1.15"/>
<text x="61.9" y="455.9" font-size="9.4" text-anchor="middle" fill="#111">+ 2S</text>
<path d="M59.3,466.75 L66.3,466.75 L66.3,462.9 L73.2,470.2 L66.3,477.5 L66.3,473.65 L59.3,473.65 Z" fill="#fff" stroke="#000" stroke-width="2.8" stroke-linejoin="miter" stroke-miterlimit="4"/>
<path d="M173.2,466.55 L180.2,466.55 L180.2,462.7 L187.1,470 L180.2,477.3 L180.2,473.45 L173.2,473.45 Z" fill="#fff" stroke="#000" stroke-width="2.8" stroke-linejoin="miter" stroke-miterlimit="4"/>
<path d="M277.8,466.55 L284.8,466.55 L284.8,462.7 L291.7,470 L284.8,477.3 L284.8,473.45 L277.8,473.45 Z" fill="#fff" stroke="#000" stroke-width="2.8" stroke-linejoin="miter" stroke-miterlimit="4"/>
<path d="M414.4,466.35 L421.4,466.35 L421.4,462.5 L428.3,469.8 L421.4,477.1 L421.4,473.25 L414.4,473.25 Z" fill="#fff" stroke="#000" stroke-width="2.8" stroke-linejoin="miter" stroke-miterlimit="4"/>
<rect x="92.6" y="444.2" width="73.6" height="53.6" fill="#2c2c2c"/>
<rect x="163.6" y="444.2" width="2.8" height="53.6" fill="#555"/>
<path d="M95.05,447.25h1.75v1.75h-1.75zM97.93,447.25h1.75v1.75h-1.75zM100.81,447.25h1.75v1.75h-1.75zM103.69,447.25h1.75v1.75h-1.75zM106.57,447.25h1.75v1.75h-1.75zM109.45,447.25h1.75v1.75h-1.75zM112.33,447.25h1.75v1.75h-1.75zM115.21,447.25h1.75v1.75h-1.75zM118.09,447.25h1.75v1.75h-1.75zM120.97,447.25h1.75v1.75h-1.75zM123.85,447.25h1.75v1.75h-1.75zM126.73,447.25h1.75v1.75h-1.75zM129.61,447.25h1.75v1.75h-1.75zM132.49,447.25h1.75v1.75h-1.75zM135.37,447.25h1.75v1.75h-1.75zM138.25,447.25h1.75v1.75h-1.75zM141.13,447.25h1.75v1.75h-1.75zM144.01,447.25h1.75v1.75h-1.75zM146.89,447.25h1.75v1.75h-1.75zM149.77,447.25h1.75v1.75h-1.75zM152.65,447.25h1.75v1.75h-1.75zM155.53,447.25h1.75v1.75h-1.75zM158.41,447.25h1.75v1.75h-1.75zM161.29,447.25h1.75v1.75h-1.75zM95.05,450.33h1.75v1.75h-1.75zM97.93,450.33h1.75v1.75h-1.75zM100.81,450.33h1.75v1.75h-1.75zM103.69,450.33h1.75v1.75h-1.75zM106.57,450.33h1.75v1.75h-1.75zM109.45,450.33h1.75v1.75h-1.75zM112.33,450.33h1.75v1.75h-1.75zM115.21,450.33h1.75v1.75h-1.75zM118.09,450.33h1.75v1.75h-1.75zM120.97,450.33h1.75v1.75h-1.75zM123.85,450.33h1.75v1.75h-1.75zM126.73,450.33h1.75v1.75h-1.75zM129.61,450.33h1.75v1.75h-1.75zM132.49,450.33h1.75v1.75h-1.75zM135.37,450.33h1.75v1.75h-1.75zM138.25,450.33h1.75v1.75h-1.75zM141.13,450.33h1.75v1.75h-1.75zM144.01,450.33h1.75v1.75h-1.75zM146.89,450.33h1.75v1.75h-1.75zM149.77,450.33h1.75v1.75h-1.75zM152.65,450.33h1.75v1.75h-1.75zM155.53,450.33h1.75v1.75h-1.75zM158.41,450.33h1.75v1.75h-1.75zM161.29,450.33h1.75v1.75h-1.75zM95.05,453.41h1.75v1.75h-1.75zM97.93,453.41h1.75v1.75h-1.75zM100.81,453.41h1.75v1.75h-1.75zM103.69,453.41h1.75v1.75h-1.75zM106.57,453.41h1.75v1.75h-1.75zM109.45,453.41h1.75v1.75h-1.75zM112.33,453.41h1.75v1.75h-1.75zM115.21,453.41h1.75v1.75h-1.75zM118.09,453.41h1.75v1.75h-1.75zM120.97,453.41h1.75v1.75h-1.75zM123.85,453.41h1.75v1.75h-1.75zM126.73,453.41h1.75v1.75h-1.75zM129.61,453.41h1.75v1.75h-1.75zM132.49,453.41h1.75v1.75h-1.75zM135.37,453.41h1.75v1.75h-1.75zM138.25,453.41h1.75v1.75h-1.75zM141.13,453.41h1.75v1.75h-1.75zM144.01,453.41h1.75v1.75h-1.75zM146.89,453.41h1.75v1.75h-1.75zM149.77,453.41h1.75v1.75h-1.75zM152.65,453.41h1.75v1.75h-1.75zM155.53,453.41h1.75v1.75h-1.75zM158.41,453.41h1.75v1.75h-1.75zM161.29,453.41h1.75v1.75h-1.75zM95.05,456.49h1.75v1.75h-1.75zM97.93,456.49h1.75v1.75h-1.75zM100.81,456.49h1.75v1.75h-1.75zM103.69,456.49h1.75v1.75h-1.75zM106.57,456.49h1.75v1.75h-1.75zM109.45,456.49h1.75v1.75h-1.75zM112.33,456.49h1.75v1.75h-1.75zM115.21,456.49h1.75v1.75h-1.75zM118.09,456.49h1.75v1.75h-1.75zM120.97,456.49h1.75v1.75h-1.75zM123.85,456.49h1.75v1.75h-1.75zM126.73,456.49h1.75v1.75h-1.75zM129.61,456.49h1.75v1.75h-1.75zM132.49,456.49h1.75v1.75h-1.75zM135.37,456.49h1.75v1.75h-1.75zM138.25,456.49h1.75v1.75h-1.75zM141.13,456.49h1.75v1.75h-1.75zM144.01,456.49h1.75v1.75h-1.75zM146.89,456.49h1.75v1.75h-1.75zM149.77,456.49h1.75v1.75h-1.75zM152.65,456.49h1.75v1.75h-1.75zM155.53,456.49h1.75v1.75h-1.75zM158.41,456.49h1.75v1.75h-1.75zM161.29,456.49h1.75v1.75h-1.75zM95.05,459.57h1.75v1.75h-1.75zM97.93,459.57h1.75v1.75h-1.75zM100.81,459.57h1.75v1.75h-1.75zM103.69,459.57h1.75v1.75h-1.75zM106.57,459.57h1.75v1.75h-1.75zM109.45,459.57h1.75v1.75h-1.75zM112.33,459.57h1.75v1.75h-1.75zM115.21,459.57h1.75v1.75h-1.75zM118.09,459.57h1.75v1.75h-1.75zM120.97,459.57h1.75v1.75h-1.75zM123.85,459.57h1.75v1.75h-1.75zM126.73,459.57h1.75v1.75h-1.75zM129.61,459.57h1.75v1.75h-1.75zM132.49,459.57h1.75v1.75h-1.75zM135.37,459.57h1.75v1.75h-1.75zM138.25,459.57h1.75v1.75h-1.75zM141.13,459.57h1.75v1.75h-1.75zM144.01,459.57h1.75v1.75h-1.75zM146.89,459.57h1.75v1.75h-1.75zM149.77,459.57h1.75v1.75h-1.75zM152.65,459.57h1.75v1.75h-1.75zM155.53,459.57h1.75v1.75h-1.75zM158.41,459.57h1.75v1.75h-1.75zM161.29,459.57h1.75v1.75h-1.75zM95.05,462.65h1.75v1.75h-1.75zM97.93,462.65h1.75v1.75h-1.75zM100.81,462.65h1.75v1.75h-1.75zM103.69,462.65h1.75v1.75h-1.75zM106.57,462.65h1.75v1.75h-1.75zM109.45,462.65h1.75v1.75h-1.75zM112.33,462.65h1.75v1.75h-1.75zM115.21,462.65h1.75v1.75h-1.75zM118.09,462.65h1.75v1.75h-1.75zM120.97,462.65h1.75v1.75h-1.75zM123.85,462.65h1.75v1.75h-1.75zM126.73,462.65h1.75v1.75h-1.75zM129.61,462.65h1.75v1.75h-1.75zM132.49,462.65h1.75v1.75h-1.75zM135.37,462.65h1.75v1.75h-1.75zM138.25,462.65h1.75v1.75h-1.75zM141.13,462.65h1.75v1.75h-1.75zM144.01,462.65h1.75v1.75h-1.75zM146.89,462.65h1.75v1.75h-1.75zM149.77,462.65h1.75v1.75h-1.75zM152.65,462.65h1.75v1.75h-1.75zM155.53,462.65h1.75v1.75h-1.75zM158.41,462.65h1.75v1.75h-1.75zM161.29,462.65h1.75v1.75h-1.75zM95.05,465.73h1.75v1.75h-1.75zM97.93,465.73h1.75v1.75h-1.75zM100.81,465.73h1.75v1.75h-1.75zM103.69,465.73h1.75v1.75h-1.75zM106.57,465.73h1.75v1.75h-1.75zM109.45,465.73h1.75v1.75h-1.75zM112.33,465.73h1.75v1.75h-1.75zM115.21,465.73h1.75v1.75h-1.75zM118.09,465.73h1.75v1.75h-1.75zM120.97,465.73h1.75v1.75h-1.75zM123.85,465.73h1.75v1.75h-1.75zM126.73,465.73h1.75v1.75h-1.75zM129.61,465.73h1.75v1.75h-1.75zM132.49,465.73h1.75v1.75h-1.75zM135.37,465.73h1.75v1.75h-1.75zM138.25,465.73h1.75v1.75h-1.75zM141.13,465.73h1.75v1.75h-1.75zM144.01,465.73h1.75v1.75h-1.75zM146.89,465.73h1.75v1.75h-1.75zM149.77,465.73h1.75v1.75h-1.75zM152.65,465.73h1.75v1.75h-1.75zM155.53,465.73h1.75v1.75h-1.75zM158.41,465.73h1.75v1.75h-1.75zM161.29,465.73h1.75v1.75h-1.75zM95.05,468.81h1.75v1.75h-1.75zM97.93,468.81h1.75v1.75h-1.75zM100.81,468.81h1.75v1.75h-1.75zM103.69,468.81h1.75v1.75h-1.75zM106.57,468.81h1.75v1.75h-1.75zM109.45,468.81h1.75v1.75h-1.75zM112.33,468.81h1.75v1.75h-1.75zM115.21,468.81h1.75v1.75h-1.75zM118.09,468.81h1.75v1.75h-1.75zM120.97,468.81h1.75v1.75h-1.75zM123.85,468.81h1.75v1.75h-1.75zM126.73,468.81h1.75v1.75h-1.75zM129.61,468.81h1.75v1.75h-1.75zM132.49,468.81h1.75v1.75h-1.75zM135.37,468.81h1.75v1.75h-1.75zM138.25,468.81h1.75v1.75h-1.75zM141.13,468.81h1.75v1.75h-1.75zM144.01,468.81h1.75v1.75h-1.75zM146.89,468.81h1.75v1.75h-1.75zM149.77,468.81h1.75v1.75h-1.75zM152.65,468.81h1.75v1.75h-1.75zM155.53,468.81h1.75v1.75h-1.75zM158.41,468.81h1.75v1.75h-1.75zM161.29,468.81h1.75v1.75h-1.75zM95.05,471.89h1.75v1.75h-1.75zM97.93,471.89h1.75v1.75h-1.75zM100.81,471.89h1.75v1.75h-1.75zM103.69,471.89h1.75v1.75h-1.75zM106.57,471.89h1.75v1.75h-1.75zM109.45,471.89h1.75v1.75h-1.75zM112.33,471.89h1.75v1.75h-1.75zM115.21,471.89h1.75v1.75h-1.75zM118.09,471.89h1.75v1.75h-1.75zM120.97,471.89h1.75v1.75h-1.75zM123.85,471.89h1.75v1.75h-1.75zM126.73,471.89h1.75v1.75h-1.75zM129.61,471.89h1.75v1.75h-1.75zM132.49,471.89h1.75v1.75h-1.75zM135.37,471.89h1.75v1.75h-1.75zM138.25,471.89h1.75v1.75h-1.75zM141.13,471.89h1.75v1.75h-1.75zM144.01,471.89h1.75v1.75h-1.75zM146.89,471.89h1.75v1.75h-1.75zM149.77,471.89h1.75v1.75h-1.75zM152.65,471.89h1.75v1.75h-1.75zM155.53,471.89h1.75v1.75h-1.75zM158.41,471.89h1.75v1.75h-1.75zM161.29,471.89h1.75v1.75h-1.75zM95.05,474.97h1.75v1.75h-1.75zM97.93,474.97h1.75v1.75h-1.75zM100.81,474.97h1.75v1.75h-1.75zM103.69,474.97h1.75v1.75h-1.75zM106.57,474.97h1.75v1.75h-1.75zM109.45,474.97h1.75v1.75h-1.75zM112.33,474.97h1.75v1.75h-1.75zM115.21,474.97h1.75v1.75h-1.75zM118.09,474.97h1.75v1.75h-1.75zM120.97,474.97h1.75v1.75h-1.75zM123.85,474.97h1.75v1.75h-1.75zM126.73,474.97h1.75v1.75h-1.75zM129.61,474.97h1.75v1.75h-1.75zM132.49,474.97h1.75v1.75h-1.75zM135.37,474.97h1.75v1.75h-1.75zM138.25,474.97h1.75v1.75h-1.75zM141.13,474.97h1.75v1.75h-1.75zM144.01,474.97h1.75v1.75h-1.75zM146.89,474.97h1.75v1.75h-1.75zM149.77,474.97h1.75v1.75h-1.75zM152.65,474.97h1.75v1.75h-1.75zM155.53,474.97h1.75v1.75h-1.75zM158.41,474.97h1.75v1.75h-1.75zM161.29,474.97h1.75v1.75h-1.75zM95.05,478.05h1.75v1.75h-1.75zM97.93,478.05h1.75v1.75h-1.75zM100.81,478.05h1.75v1.75h-1.75zM103.69,478.05h1.75v1.75h-1.75zM106.57,478.05h1.75v1.75h-1.75zM109.45,478.05h1.75v1.75h-1.75zM112.33,478.05h1.75v1.75h-1.75zM115.21,478.05h1.75v1.75h-1.75zM118.09,478.05h1.75v1.75h-1.75zM120.97,478.05h1.75v1.75h-1.75zM123.85,478.05h1.75v1.75h-1.75zM126.73,478.05h1.75v1.75h-1.75zM129.61,478.05h1.75v1.75h-1.75zM132.49,478.05h1.75v1.75h-1.75zM135.37,478.05h1.75v1.75h-1.75zM138.25,478.05h1.75v1.75h-1.75zM141.13,478.05h1.75v1.75h-1.75zM144.01,478.05h1.75v1.75h-1.75zM146.89,478.05h1.75v1.75h-1.75zM149.77,478.05h1.75v1.75h-1.75zM152.65,478.05h1.75v1.75h-1.75zM155.53,478.05h1.75v1.75h-1.75zM158.41,478.05h1.75v1.75h-1.75zM161.29,478.05h1.75v1.75h-1.75zM95.05,481.13h1.75v1.75h-1.75zM97.93,481.13h1.75v1.75h-1.75zM100.81,481.13h1.75v1.75h-1.75zM103.69,481.13h1.75v1.75h-1.75zM106.57,481.13h1.75v1.75h-1.75zM109.45,481.13h1.75v1.75h-1.75zM112.33,481.13h1.75v1.75h-1.75zM115.21,481.13h1.75v1.75h-1.75zM118.09,481.13h1.75v1.75h-1.75zM120.97,481.13h1.75v1.75h-1.75zM123.85,481.13h1.75v1.75h-1.75zM126.73,481.13h1.75v1.75h-1.75zM129.61,481.13h1.75v1.75h-1.75zM132.49,481.13h1.75v1.75h-1.75zM135.37,481.13h1.75v1.75h-1.75zM138.25,481.13h1.75v1.75h-1.75zM141.13,481.13h1.75v1.75h-1.75zM144.01,481.13h1.75v1.75h-1.75zM146.89,481.13h1.75v1.75h-1.75zM149.77,481.13h1.75v1.75h-1.75zM152.65,481.13h1.75v1.75h-1.75zM155.53,481.13h1.75v1.75h-1.75zM158.41,481.13h1.75v1.75h-1.75zM161.29,481.13h1.75v1.75h-1.75zM95.05,484.21h1.75v1.75h-1.75zM97.93,484.21h1.75v1.75h-1.75zM100.81,484.21h1.75v1.75h-1.75zM103.69,484.21h1.75v1.75h-1.75zM106.57,484.21h1.75v1.75h-1.75zM109.45,484.21h1.75v1.75h-1.75zM112.33,484.21h1.75v1.75h-1.75zM115.21,484.21h1.75v1.75h-1.75zM118.09,484.21h1.75v1.75h-1.75zM120.97,484.21h1.75v1.75h-1.75zM123.85,484.21h1.75v1.75h-1.75zM126.73,484.21h1.75v1.75h-1.75zM129.61,484.21h1.75v1.75h-1.75zM132.49,484.21h1.75v1.75h-1.75zM135.37,484.21h1.75v1.75h-1.75zM138.25,484.21h1.75v1.75h-1.75zM141.13,484.21h1.75v1.75h-1.75zM144.01,484.21h1.75v1.75h-1.75zM146.89,484.21h1.75v1.75h-1.75zM149.77,484.21h1.75v1.75h-1.75zM152.65,484.21h1.75v1.75h-1.75zM155.53,484.21h1.75v1.75h-1.75zM158.41,484.21h1.75v1.75h-1.75zM161.29,484.21h1.75v1.75h-1.75zM95.05,487.29h1.75v1.75h-1.75zM97.93,487.29h1.75v1.75h-1.75zM100.81,487.29h1.75v1.75h-1.75zM103.69,487.29h1.75v1.75h-1.75zM106.57,487.29h1.75v1.75h-1.75zM109.45,487.29h1.75v1.75h-1.75zM112.33,487.29h1.75v1.75h-1.75zM115.21,487.29h1.75v1.75h-1.75zM118.09,487.29h1.75v1.75h-1.75zM120.97,487.29h1.75v1.75h-1.75zM123.85,487.29h1.75v1.75h-1.75zM126.73,487.29h1.75v1.75h-1.75zM129.61,487.29h1.75v1.75h-1.75zM132.49,487.29h1.75v1.75h-1.75zM135.37,487.29h1.75v1.75h-1.75zM138.25,487.29h1.75v1.75h-1.75zM141.13,487.29h1.75v1.75h-1.75zM144.01,487.29h1.75v1.75h-1.75zM146.89,487.29h1.75v1.75h-1.75zM149.77,487.29h1.75v1.75h-1.75zM152.65,487.29h1.75v1.75h-1.75zM155.53,487.29h1.75v1.75h-1.75zM158.41,487.29h1.75v1.75h-1.75zM161.29,487.29h1.75v1.75h-1.75zM95.05,490.37h1.75v1.75h-1.75zM97.93,490.37h1.75v1.75h-1.75zM100.81,490.37h1.75v1.75h-1.75zM103.69,490.37h1.75v1.75h-1.75zM106.57,490.37h1.75v1.75h-1.75zM109.45,490.37h1.75v1.75h-1.75zM112.33,490.37h1.75v1.75h-1.75zM115.21,490.37h1.75v1.75h-1.75zM118.09,490.37h1.75v1.75h-1.75zM120.97,490.37h1.75v1.75h-1.75zM123.85,490.37h1.75v1.75h-1.75zM126.73,490.37h1.75v1.75h-1.75zM129.61,490.37h1.75v1.75h-1.75zM132.49,490.37h1.75v1.75h-1.75zM135.37,490.37h1.75v1.75h-1.75zM138.25,490.37h1.75v1.75h-1.75zM141.13,490.37h1.75v1.75h-1.75zM144.01,490.37h1.75v1.75h-1.75zM146.89,490.37h1.75v1.75h-1.75zM149.77,490.37h1.75v1.75h-1.75zM152.65,490.37h1.75v1.75h-1.75zM155.53,490.37h1.75v1.75h-1.75zM158.41,490.37h1.75v1.75h-1.75zM161.29,490.37h1.75v1.75h-1.75zM95.05,493.45h1.75v1.75h-1.75zM97.93,493.45h1.75v1.75h-1.75zM100.81,493.45h1.75v1.75h-1.75zM103.69,493.45h1.75v1.75h-1.75zM106.57,493.45h1.75v1.75h-1.75zM109.45,493.45h1.75v1.75h-1.75zM112.33,493.45h1.75v1.75h-1.75zM115.21,493.45h1.75v1.75h-1.75zM118.09,493.45h1.75v1.75h-1.75zM120.97,493.45h1.75v1.75h-1.75zM123.85,493.45h1.75v1.75h-1.75zM126.73,493.45h1.75v1.75h-1.75zM129.61,493.45h1.75v1.75h-1.75zM132.49,493.45h1.75v1.75h-1.75zM135.37,493.45h1.75v1.75h-1.75zM138.25,493.45h1.75v1.75h-1.75zM141.13,493.45h1.75v1.75h-1.75zM144.01,493.45h1.75v1.75h-1.75zM146.89,493.45h1.75v1.75h-1.75zM149.77,493.45h1.75v1.75h-1.75zM152.65,493.45h1.75v1.75h-1.75zM155.53,493.45h1.75v1.75h-1.75zM158.41,493.45h1.75v1.75h-1.75zM161.29,493.45h1.75v1.75h-1.75z" fill="#f4f4f4"/>
<text x="93.2" y="441.5" font-size="8.6" text-anchor="start" fill="#111">Kinase Inhibitors</text>
<line x1="92.6" y1="442.3" x2="160" y2="442.3" stroke="#111" stroke-width="1.0"/>
<path d="M166.4,443.6 L158.2,438.6 L158.2,443.6 Z" fill="#333"/>
<text x="0" y="0" font-size="8.6" text-anchor="middle" fill="#111" transform="translate(89.0,464.6) rotate(-90)">venetoclax</text>
<line x1="90.3" y1="444.2" x2="90.3" y2="492" stroke="#111" stroke-width="1.1"/>
<path d="M90.8,498 L86.4,490.6 L90.8,490.6 Z" fill="#333"/>
<g stroke="#151515" stroke-width="0.8" stroke-linejoin="round"><path d="M193.4,463.5 L194.2,485.5 L197,485.5 L196.4,464.5 Z" fill="#cfcfcf"/><path d="M208.2,469 L209.2,498 L212.6,498 L211.8,469.5 Z" fill="#bdbdbd"/><path d="M221.8,467 L222.4,489.5 L225.2,489.5 L224.6,467 Z" fill="#b0b0b0"/><path d="M196.6,476.2 L208.6,480.6 L208.7,483 L196.7,478.6 Z" fill="#888"/><path d="M212,490.2 L222.6,485.2 L222.7,487.6 L212.1,492.6 Z" fill="#888"/><path d="M212,478 L222.4,474.5 L222.5,476.6 L212.1,480 Z" fill="#999"/><path d="M192.6,462 L209.6,467.6 L225,464.6 L207.6,459.4 Z" fill="#ececec"/><path d="M192.6,462 L209.6,467.6 L209.6,470.6 L192.6,464.8 Z" fill="#3a3a3a"/><path d="M209.6,467.6 L225,464.6 L225,467.2 L209.6,470.6 Z" fill="#666"/><path d="M197.8,457.6 L197.8,461.4 L205.8,463.6 L205.8,459.8 Z" fill="#9a9a9a"/><path d="M197.8,457.6 L205.8,459.8 L211,458 L203,456 Z" fill="#d0d0d0"/><path d="M205.8,459.8 L205.8,463.6 L211,461.8 L211,458 Z" fill="#6a6a6a"/><path d="M208.4,461 L208.4,466.2 L216.5,467.5 L216.5,462.3 Z" fill="#8a8a8a"/><path d="M208.4,461 L216.5,462.3 L224,460 L216,458.8 Z" fill="#cfcfcf"/><path d="M216.5,462.3 L216.5,467.5 L224,465.2 L224,460 Z" fill="#a0a0a0"/><path d="M224.5,466 Q229,467 231,471 L236,476 L233,477 Q226,473 224.5,470 Z" fill="#e0e0e0"/><path d="M233.4,443.6 L245.3,443.3 L245.3,465 L233.4,465.5 Z" fill="#b2b2b2"/><path d="M245.3,443.3 L253.7,443.6 L253.7,464.5 L245.3,465 Z" fill="#8e8e8e"/><path d="M233.4,443.6 L253.7,443.6 L253.7,445.2 L233.4,445.2 Z" fill="#ddd"/><path d="M241.6,435 L251.6,435 L251.6,444 L241.6,444 Z" fill="#4a4a4a"/><path d="M229.5,467.5 L247,463.5 L256.6,465 L239,472.8 Z" fill="#cfcfcf"/><path d="M232,467 L244.5,464.6 L249,465.6 L237,468.8 Z" fill="#2a2a2a"/><path d="M234,472.5 L245,474 L245,491.8 L234,487.6 Z" fill="#5a5a5a"/><path d="M245,474 L256.6,466 L256.6,484.5 L245,491.8 Z" fill="#9a9a9a"/><path d="M253.9,443.2 L271.5,443.8 L271.5,463.8 L253.9,464.5 Z" fill="#f6f6f6"/><path d="M256.4,446.4 L261.3,446.4 L261.3,462.6 L256.4,462.6 Z" fill="#3a3a3a"/><path d="M264.4,446.2 L269.5,446.4 L269.5,462.2 L264.4,462.2 Z" fill="#4a4a4a"/><path d="M256.6,463.8 L270.6,463.4 L270.6,478.6 L265.4,482.6 L256.6,479.2 Z" fill="#8c8c8c"/><path d="M253.9,464.5 L256.6,463.8 L256.6,479.2 L253.9,478 Z" fill="#bbb"/><circle cx="265.4" cy="483" r="1" fill="#222"/><path d="M225,453 L240,453.3 L240,464 L225,463.8 Z" fill="#1a1a1a"/><path d="M226.6,454.6 L238.4,454.8 L238.4,462.3 L226.6,462.2 Z" fill="#f4f4f4" stroke="none"/></g>
<text x="232.5" y="460.7" font-size="4.9" text-anchor="middle" fill="#222">Opera</text>
<rect x="293.2" y="440.2" width="57.8" height="55.1" fill="#000" stroke="#666" stroke-width="0.6"/>
<rect x="354.2" y="440.2" width="57.1" height="55.1" fill="#000" stroke="#666" stroke-width="0.6"/>
<defs><filter id="bl" x="-50%" y="-50%" width="200%" height="200%"><feGaussianBlur stdDeviation="0.8"/></filter></defs>
<g filter="url(#bl)"><path d="M329,447.5 Q331,441.6 337,441.8 Q342.2,442.2 341.6,446 Q340.4,450 335,450.2 Q337.5,447.2 335.6,445.6 Q332.6,444.4 329,447.5 Z" fill="#ff1444"/><circle cx="332.6" cy="447.6" r="2.1" fill="#ff1444"/><ellipse cx="307" cy="451.9" rx="3.4" ry="2.1" fill="#c828d8"/><circle cx="319.8" cy="450.3" r="2" fill="#30f040"/><ellipse cx="298.3" cy="460.9" rx="3.4" ry="4.2" fill="#ff1444"/><path d="M297.3,457.6 L299.3,464" stroke="#600020" stroke-width="0.8"/><circle cx="327.6" cy="457.4" r="4.6" fill="#ff1444"/><circle cx="328.8" cy="457.9" r="3.3" fill="#2a2aff"/><circle cx="339.3" cy="460.5" r="4.1" fill="#c828d8"/><circle cx="338.9" cy="459.8" r="3.2" fill="#2a2aff"/><circle cx="313.3" cy="474.3" r="4.4" fill="#ff1444"/><circle cx="312.8" cy="475.1" r="3.5" fill="#2a2aff"/><circle cx="338.4" cy="472" r="3.1" fill="#2a2aff"/><circle cx="342.8" cy="470.2" r="1.8" fill="#ff1444"/><circle cx="342.2" cy="478.2" r="4.1" fill="#ff1444"/><circle cx="343" cy="478.9" r="2.8" fill="#2a2aff"/><path d="M304.4,476.8 A4.3,4.3 0 1 0 304.8,483.6" fill="none" stroke="#ff1444" stroke-width="2.7"/><circle cx="302.2" cy="480.6" r="1.6" fill="#2020b0"/><circle cx="324.3" cy="485.2" r="3.6" fill="none" stroke="#ff1444" stroke-width="2.5"/><circle cx="324.8" cy="485.6" r="1.7" fill="#2020c0"/><circle cx="309.3" cy="491.3" r="3.4" fill="#2a2aff"/><circle cx="299.4" cy="491.5" r="3" fill="#c828d8"/><circle cx="300.9" cy="492.2" r="1.5" fill="#ff1444"/><circle cx="347.6" cy="481.8" r="1.3" fill="#2a2aff"/><circle cx="377.8" cy="446.5" r="4.1" fill="#30f040"/><circle cx="377.6" cy="446.9" r="2.1" fill="#1a2ad8"/><circle cx="390.5" cy="444.8" r="3.1" fill="#2a2aff"/><circle cx="387" cy="453.4" r="2.1" fill="#30f040"/><circle cx="397.4" cy="454" r="2.9" fill="#2a2aff"/><circle cx="366.8" cy="448.6" r="2" fill="#3040e0"/><circle cx="364.5" cy="469.6" r="4.2" fill="#30f040"/><circle cx="364.8" cy="469.4" r="2.2" fill="#1a2ad8"/><circle cx="389.9" cy="468.4" r="3.1" fill="#2a2aff"/><circle cx="404.3" cy="472.5" r="3.5" fill="#2a2aff"/><circle cx="405.6" cy="470.8" r="1.7" fill="#ff1444"/><circle cx="363.6" cy="480" r="5.7" fill="#30f040"/><circle cx="362.6" cy="479.8" r="2.7" fill="#1a2ad8"/><circle cx="384.7" cy="483.4" r="3.9" fill="#30f040"/><circle cx="384.3" cy="483.2" r="2.1" fill="#1a2ad8"/><circle cx="373.2" cy="488" r="3.4" fill="#2a2aff"/><circle cx="376" cy="489.6" r="1.7" fill="#ff1444"/><circle cx="404.3" cy="486.9" r="3.4" fill="#2a2aff"/><circle cx="406.8" cy="487.8" r="1.6" fill="#ff1444"/></g>
<text x="296" y="450.4" font-size="8.6" text-anchor="start" fill="#fff">Control</text>
<text x="360" y="450.2" font-size="8.6" text-anchor="start" fill="#f0f0f0">KI+</text>
<text x="360" y="461" font-size="8.6" text-anchor="start" fill="#e8e8e8">venetoclax</text>
<g transform="translate(446.55,463.95) rotate(18.8)"><path d="M-4.8,0 L-4.8,-9 A4.8,4.8 0 0 1 4.8,-9 L4.8,0 Z" fill="#ee7412"/><path d="M-4.8,0 L-4.8,9 A4.8,4.8 0 0 0 4.8,9 L4.8,0 Z" fill="#1872c8"/><rect x="-4.8" y="-13.8" width="9.6" height="27.6" rx="4.8" fill="none" stroke="#4a4038" stroke-width="0.6"/></g>
<g transform="translate(455.8,475.25) rotate(18.8)"><path d="M-4.8,0 L-4.8,-9 A4.8,4.8 0 0 1 4.8,-9 L4.8,0 Z" fill="#1a78d0"/><path d="M-4.8,0 L-4.8,9 A4.8,4.8 0 0 0 4.8,9 L4.8,0 Z" fill="#5f9436"/><rect x="-4.8" y="-13.8" width="9.6" height="27.6" rx="4.8" fill="none" stroke="#4a4038" stroke-width="0.6"/></g>
<text x="44.2" y="513.2" font-size="9.8" text-anchor="middle" fill="#111">Unstimulated</text>
<text x="44.2" y="525" font-size="9.8" text-anchor="middle" fill="#111">CLL cells</text>
<text x="128.8" y="513.2" font-size="9.8" text-anchor="middle" fill="#111">Combination</text>
<text x="128.8" y="525" font-size="9.8" text-anchor="middle" fill="#111">screen</text>
<text x="237.9" y="513.2" font-size="9.8" text-anchor="middle" fill="#111">Automated</text>
<text x="237.9" y="525" font-size="9.8" text-anchor="middle" fill="#111">imaging</text>
<text x="349.6" y="513.2" font-size="9.8" text-anchor="middle" fill="#111">Image</text>
<text x="349.6" y="525" font-size="9.8" text-anchor="middle" fill="#111">analysis</text>
<text x="446.9" y="513.2" font-size="9.8" text-anchor="middle" fill="#111">Best drug</text>
<text x="446.9" y="525" font-size="9.8" text-anchor="middle" fill="#111">Combination</text>
</svg>
</body></html>
